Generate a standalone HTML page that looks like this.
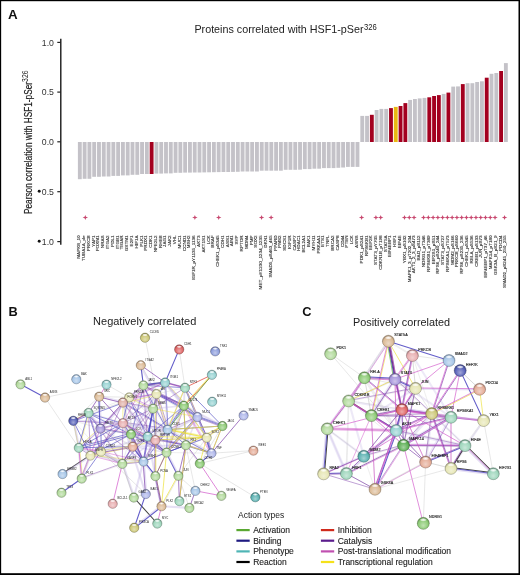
<!DOCTYPE html>
<html><head><meta charset="utf-8"><style>html,body{margin:0;padding:0;width:520px;height:575px;overflow:hidden;background:#fff}</style></head>
<body>
<svg width="520" height="575" viewBox="0 0 520 575" style="position:absolute;left:0;top:0;font-family:'Liberation Sans', sans-serif;will-change:transform">
<rect x="0" y="0" width="520" height="575" fill="#fff"/>
<text x="7.9" y="18.6" font-size="13.4" font-weight="bold" fill="#111">A</text>
<text x="8.5" y="316.3" font-size="12.8" font-weight="bold" fill="#111">B</text>
<text x="302.2" y="316.3" font-size="12.8" font-weight="bold" fill="#111">C</text>
<text x="194.4" y="32.8" font-size="10.6" fill="#222" textLength="169.2" lengthAdjust="spacingAndGlyphs">Proteins correlated with HSF1-pSer</text>
<text x="363.9" y="29.8" font-size="9.2" fill="#222" textLength="12.8" lengthAdjust="spacingAndGlyphs">326</text>
<g transform="translate(32.3,214) rotate(-90)"><text x="0" y="0" font-size="10.4" fill="#222" stroke="#222" stroke-width="0.2" textLength="132" lengthAdjust="spacingAndGlyphs">Pearson correlation with HSF1-pSer</text><text x="132.1" y="-4.1" font-size="9.4" fill="#222" textLength="11.4" lengthAdjust="spacingAndGlyphs">326</text></g>
<line x1="60.8" y1="38.8" x2="60.8" y2="244.8" stroke="#111" stroke-width="1.35"/>
<line x1="57.3" y1="42.4" x2="60.8" y2="42.4" stroke="#222" stroke-width="1.2"/>
<text x="53.9" y="45.6" font-size="9.7" fill="#333" text-anchor="end" textLength="12.1" lengthAdjust="spacingAndGlyphs">1.0</text>
<line x1="57.3" y1="92.1" x2="60.8" y2="92.1" stroke="#222" stroke-width="1.2"/>
<text x="53.9" y="95.3" font-size="9.7" fill="#333" text-anchor="end" textLength="12.1" lengthAdjust="spacingAndGlyphs">0.5</text>
<line x1="57.3" y1="141.8" x2="60.8" y2="141.8" stroke="#222" stroke-width="1.2"/>
<text x="53.9" y="145.1" font-size="9.7" fill="#333" text-anchor="end" textLength="12.1" lengthAdjust="spacingAndGlyphs">0.0</text>
<line x1="57.3" y1="191.7" x2="60.8" y2="191.7" stroke="#222" stroke-width="1.2"/>
<text x="53.9" y="194.9" font-size="9.7" fill="#333" text-anchor="end" textLength="12.1" lengthAdjust="spacingAndGlyphs">0.5</text>
<circle cx="39.2" cy="191.3" r="1.45" fill="#111"/>
<line x1="57.3" y1="241.6" x2="60.8" y2="241.6" stroke="#222" stroke-width="1.2"/>
<text x="53.9" y="244.8" font-size="9.7" fill="#333" text-anchor="end" textLength="12.1" lengthAdjust="spacingAndGlyphs">1.0</text>
<circle cx="39.2" cy="241.2" r="1.45" fill="#111"/>
<rect x="77.90" y="142.0" width="3.85" height="37.20" fill="#c4c2c8"/><rect x="82.69" y="142.0" width="3.85" height="36.80" fill="#c4c2c8"/><rect x="87.47" y="142.0" width="3.85" height="36.80" fill="#c4c2c8"/><rect x="92.26" y="142.0" width="3.85" height="34.80" fill="#c4c2c8"/><rect x="97.05" y="142.0" width="3.85" height="34.80" fill="#c4c2c8"/><rect x="101.84" y="142.0" width="3.85" height="34.50" fill="#c4c2c8"/><rect x="106.62" y="142.0" width="3.85" height="34.50" fill="#c4c2c8"/><rect x="111.41" y="142.0" width="3.85" height="33.90" fill="#c4c2c8"/><rect x="116.20" y="142.0" width="3.85" height="33.90" fill="#c4c2c8"/><rect x="120.98" y="142.0" width="3.85" height="33.40" fill="#c4c2c8"/><rect x="125.77" y="142.0" width="3.85" height="33.40" fill="#c4c2c8"/><rect x="130.56" y="142.0" width="3.85" height="32.80" fill="#c4c2c8"/><rect x="135.34" y="142.0" width="3.85" height="32.80" fill="#c4c2c8"/><rect x="140.13" y="142.0" width="3.85" height="32.00" fill="#c4c2c8"/><rect x="144.92" y="142.0" width="3.85" height="32.00" fill="#c4c2c8"/><rect x="149.70" y="142.0" width="3.85" height="32.00" fill="#a3001f"/><rect x="154.49" y="142.0" width="3.85" height="31.60" fill="#c4c2c8"/><rect x="159.28" y="142.0" width="3.85" height="31.60" fill="#c4c2c8"/><rect x="164.07" y="142.0" width="3.85" height="31.40" fill="#c4c2c8"/><rect x="168.85" y="142.0" width="3.85" height="31.40" fill="#c4c2c8"/><rect x="173.64" y="142.0" width="3.85" height="30.80" fill="#c4c2c8"/><rect x="178.43" y="142.0" width="3.85" height="30.80" fill="#c4c2c8"/><rect x="183.21" y="142.0" width="3.85" height="30.60" fill="#c4c2c8"/><rect x="188.00" y="142.0" width="3.85" height="30.60" fill="#c4c2c8"/><rect x="192.79" y="142.0" width="3.85" height="30.50" fill="#c4c2c8"/><rect x="197.57" y="142.0" width="3.85" height="30.50" fill="#c4c2c8"/><rect x="202.36" y="142.0" width="3.85" height="30.40" fill="#c4c2c8"/><rect x="207.15" y="142.0" width="3.85" height="30.30" fill="#c4c2c8"/><rect x="211.94" y="142.0" width="3.85" height="30.20" fill="#c4c2c8"/><rect x="216.72" y="142.0" width="3.85" height="30.10" fill="#c4c2c8"/><rect x="221.51" y="142.0" width="3.85" height="30.00" fill="#c4c2c8"/><rect x="226.30" y="142.0" width="3.85" height="30.00" fill="#c4c2c8"/><rect x="231.08" y="142.0" width="3.85" height="29.90" fill="#c4c2c8"/><rect x="235.87" y="142.0" width="3.85" height="29.80" fill="#c4c2c8"/><rect x="240.66" y="142.0" width="3.85" height="29.50" fill="#c4c2c8"/><rect x="245.44" y="142.0" width="3.85" height="29.50" fill="#c4c2c8"/><rect x="250.23" y="142.0" width="3.85" height="29.50" fill="#c4c2c8"/><rect x="255.02" y="142.0" width="3.85" height="29.50" fill="#c4c2c8"/><rect x="259.81" y="142.0" width="3.85" height="28.70" fill="#c4c2c8"/><rect x="264.59" y="142.0" width="3.85" height="28.70" fill="#c4c2c8"/><rect x="269.38" y="142.0" width="3.85" height="28.70" fill="#c4c2c8"/><rect x="274.17" y="142.0" width="3.85" height="28.70" fill="#c4c2c8"/><rect x="278.95" y="142.0" width="3.85" height="28.70" fill="#c4c2c8"/><rect x="283.74" y="142.0" width="3.85" height="27.80" fill="#c4c2c8"/><rect x="288.53" y="142.0" width="3.85" height="27.80" fill="#c4c2c8"/><rect x="293.31" y="142.0" width="3.85" height="27.80" fill="#c4c2c8"/><rect x="298.10" y="142.0" width="3.85" height="27.70" fill="#c4c2c8"/><rect x="302.89" y="142.0" width="3.85" height="27.10" fill="#c4c2c8"/><rect x="307.68" y="142.0" width="3.85" height="27.10" fill="#c4c2c8"/><rect x="312.46" y="142.0" width="3.85" height="26.70" fill="#c4c2c8"/><rect x="317.25" y="142.0" width="3.85" height="26.70" fill="#c4c2c8"/><rect x="322.04" y="142.0" width="3.85" height="26.10" fill="#c4c2c8"/><rect x="326.82" y="142.0" width="3.85" height="26.10" fill="#c4c2c8"/><rect x="331.61" y="142.0" width="3.85" height="26.10" fill="#c4c2c8"/><rect x="336.40" y="142.0" width="3.85" height="25.80" fill="#c4c2c8"/><rect x="341.18" y="142.0" width="3.85" height="25.50" fill="#c4c2c8"/><rect x="345.97" y="142.0" width="3.85" height="24.90" fill="#c4c2c8"/><rect x="350.76" y="142.0" width="3.85" height="24.90" fill="#c4c2c8"/><rect x="355.55" y="142.0" width="3.85" height="24.90" fill="#c4c2c8"/><rect x="360.33" y="115.9" width="3.85" height="26.10" fill="#c4c2c8"/><rect x="365.12" y="115.9" width="3.85" height="26.10" fill="#c4c2c8"/><rect x="369.91" y="114.8" width="3.85" height="27.20" fill="#a3001f"/><rect x="374.69" y="110.0" width="3.85" height="32.00" fill="#c4c2c8"/><rect x="379.48" y="108.9" width="3.85" height="33.10" fill="#c4c2c8"/><rect x="384.27" y="108.9" width="3.85" height="33.10" fill="#c4c2c8"/><rect x="389.05" y="108.1" width="3.85" height="33.90" fill="#a3001f"/><rect x="393.84" y="106.9" width="3.85" height="35.10" fill="#e9b812"/><rect x="398.63" y="106.0" width="3.85" height="36.00" fill="#a3001f"/><rect x="403.42" y="103.1" width="3.85" height="38.90" fill="#a3001f"/><rect x="408.20" y="99.95" width="3.85" height="42.05" fill="#c4c2c8"/><rect x="412.99" y="99.0" width="3.85" height="43.00" fill="#c4c2c8"/><rect x="417.78" y="98.4" width="3.85" height="43.60" fill="#c4c2c8"/><rect x="422.56" y="97.9" width="3.85" height="44.10" fill="#c4c2c8"/><rect x="427.35" y="97.3" width="3.85" height="44.70" fill="#a3001f"/><rect x="432.14" y="96.0" width="3.85" height="46.00" fill="#a3001f"/><rect x="436.92" y="95.1" width="3.85" height="46.90" fill="#a3001f"/><rect x="441.71" y="93.9" width="3.85" height="48.10" fill="#c4c2c8"/><rect x="446.50" y="92.6" width="3.85" height="49.40" fill="#a3001f"/><rect x="451.29" y="86.6" width="3.85" height="55.40" fill="#c4c2c8"/><rect x="456.07" y="86.4" width="3.85" height="55.60" fill="#c4c2c8"/><rect x="460.86" y="84.1" width="3.85" height="57.90" fill="#a3001f"/><rect x="465.65" y="83.2" width="3.85" height="58.80" fill="#c4c2c8"/><rect x="470.43" y="83.2" width="3.85" height="58.80" fill="#c4c2c8"/><rect x="475.22" y="82.0" width="3.85" height="60.00" fill="#c4c2c8"/><rect x="480.01" y="81.3" width="3.85" height="60.70" fill="#c4c2c8"/><rect x="484.79" y="77.7" width="3.85" height="64.30" fill="#a3001f"/><rect x="489.58" y="73.8" width="3.85" height="68.20" fill="#c4c2c8"/><rect x="494.37" y="73.0" width="3.85" height="69.00" fill="#c4c2c8"/><rect x="499.16" y="71.0" width="3.85" height="71.00" fill="#a3001f"/><rect x="503.94" y="63.1" width="3.85" height="78.90" fill="#c4c2c8"/>
<path d="M82.61 217.5L84.61 216.80L85.31 214.90L86.01 216.80L88.01 217.5L86.01 218.20L85.31 220.10L84.61 218.20Z" fill="#c8486f"/><path d="M192.19 217.5L194.19 216.80L194.88 214.90L195.58 216.80L197.58 217.5L195.58 218.20L194.88 220.10L194.19 218.20Z" fill="#c8486f"/><path d="M216.01 217.5L218.01 216.80L218.71 214.90L219.41 216.80L221.41 217.5L219.41 218.20L218.71 220.10L218.01 218.20Z" fill="#c8486f"/><path d="M258.88 217.5L260.88 216.80L261.58 214.90L262.28 216.80L264.28 217.5L262.28 218.20L261.58 220.10L260.88 218.20Z" fill="#c8486f"/><path d="M268.41 217.5L270.41 216.80L271.11 214.90L271.81 216.80L273.81 217.5L271.81 218.20L271.11 220.10L270.41 218.20Z" fill="#c8486f"/><path d="M358.93 217.5L360.93 216.80L361.63 214.90L362.33 216.80L364.33 217.5L362.33 218.20L361.63 220.10L360.93 218.20Z" fill="#c8486f"/><path d="M373.22 217.5L375.22 216.80L375.92 214.90L376.62 216.80L378.62 217.5L376.62 218.20L375.92 220.10L375.22 218.20Z" fill="#c8486f"/><path d="M377.99 217.5L379.99 216.80L380.69 214.90L381.39 216.80L383.39 217.5L381.39 218.20L380.69 220.10L379.99 218.20Z" fill="#c8486f"/><path d="M401.81 217.5L403.81 216.80L404.51 214.90L405.21 216.80L407.21 217.5L405.21 218.20L404.51 220.10L403.81 218.20Z" fill="#c8486f"/><path d="M406.57 217.5L408.57 216.80L409.27 214.90L409.97 216.80L411.97 217.5L409.97 218.20L409.27 220.10L408.57 218.20Z" fill="#c8486f"/><path d="M411.34 217.5L413.34 216.80L414.04 214.90L414.74 216.80L416.74 217.5L414.74 218.20L414.04 220.10L413.34 218.20Z" fill="#c8486f"/><path d="M420.87 217.5L422.87 216.80L423.57 214.90L424.27 216.80L426.27 217.5L424.27 218.20L423.57 220.10L422.87 218.20Z" fill="#c8486f"/><path d="M425.63 217.5L427.63 216.80L428.33 214.90L429.03 216.80L431.03 217.5L429.03 218.20L428.33 220.10L427.63 218.20Z" fill="#c8486f"/><path d="M430.40 217.5L432.40 216.80L433.10 214.90L433.80 216.80L435.80 217.5L433.80 218.20L433.10 220.10L432.40 218.20Z" fill="#c8486f"/><path d="M435.16 217.5L437.16 216.80L437.86 214.90L438.56 216.80L440.56 217.5L438.56 218.20L437.86 220.10L437.16 218.20Z" fill="#c8486f"/><path d="M439.92 217.5L441.92 216.80L442.62 214.90L443.32 216.80L445.32 217.5L443.32 218.20L442.62 220.10L441.92 218.20Z" fill="#c8486f"/><path d="M444.69 217.5L446.69 216.80L447.39 214.90L448.09 216.80L450.09 217.5L448.09 218.20L447.39 220.10L446.69 218.20Z" fill="#c8486f"/><path d="M449.45 217.5L451.45 216.80L452.15 214.90L452.85 216.80L454.85 217.5L452.85 218.20L452.15 220.10L451.45 218.20Z" fill="#c8486f"/><path d="M454.22 217.5L456.22 216.80L456.92 214.90L457.62 216.80L459.62 217.5L457.62 218.20L456.92 220.10L456.22 218.20Z" fill="#c8486f"/><path d="M458.98 217.5L460.98 216.80L461.68 214.90L462.38 216.80L464.38 217.5L462.38 218.20L461.68 220.10L460.98 218.20Z" fill="#c8486f"/><path d="M463.74 217.5L465.74 216.80L466.44 214.90L467.14 216.80L469.14 217.5L467.14 218.20L466.44 220.10L465.74 218.20Z" fill="#c8486f"/><path d="M468.51 217.5L470.51 216.80L471.21 214.90L471.91 216.80L473.91 217.5L471.91 218.20L471.21 220.10L470.51 218.20Z" fill="#c8486f"/><path d="M473.27 217.5L475.27 216.80L475.97 214.90L476.67 216.80L478.67 217.5L476.67 218.20L475.97 220.10L475.27 218.20Z" fill="#c8486f"/><path d="M478.04 217.5L480.04 216.80L480.74 214.90L481.44 216.80L483.44 217.5L481.44 218.20L480.74 220.10L480.04 218.20Z" fill="#c8486f"/><path d="M482.80 217.5L484.80 216.80L485.50 214.90L486.20 216.80L488.20 217.5L486.20 218.20L485.50 220.10L484.80 218.20Z" fill="#c8486f"/><path d="M487.57 217.5L489.57 216.80L490.27 214.90L490.97 216.80L492.97 217.5L490.97 218.20L490.27 220.10L489.57 218.20Z" fill="#c8486f"/><path d="M492.33 217.5L494.33 216.80L495.03 214.90L495.73 216.80L497.73 217.5L495.73 218.20L495.03 220.10L494.33 218.20Z" fill="#c8486f"/><path d="M501.86 217.5L503.86 216.80L504.56 214.90L505.26 216.80L507.26 217.5L505.26 218.20L504.56 220.10L503.86 218.20Z" fill="#c8486f"/>
<text transform="translate(80.28,235.3) rotate(-90) scale(0.465,0.34)" x="0" y="0" font-size="10" fill="#333" stroke="#333" stroke-width="0.3" text-anchor="end">MAPK8_10</text><text transform="translate(85.06,235.3) rotate(-90) scale(0.465,0.34)" x="0" y="0" font-size="10" fill="#333" stroke="#333" stroke-width="0.3" text-anchor="end">TUBA1A_de</text><text transform="translate(89.85,235.3) rotate(-90) scale(0.465,0.34)" x="0" y="0" font-size="10" fill="#333" stroke="#333" stroke-width="0.3" text-anchor="end">PRKCB</text><text transform="translate(94.64,235.3) rotate(-90) scale(0.465,0.34)" x="0" y="0" font-size="10" fill="#333" stroke="#333" stroke-width="0.3" text-anchor="end">YAP1</text><text transform="translate(99.42,235.3) rotate(-90) scale(0.465,0.34)" x="0" y="0" font-size="10" fill="#333" stroke="#333" stroke-width="0.3" text-anchor="end">FOXM1</text><text transform="translate(104.21,235.3) rotate(-90) scale(0.465,0.34)" x="0" y="0" font-size="10" fill="#333" stroke="#333" stroke-width="0.3" text-anchor="end">NRAS</text><text transform="translate(109.00,235.3) rotate(-90) scale(0.465,0.34)" x="0" y="0" font-size="10" fill="#333" stroke="#333" stroke-width="0.3" text-anchor="end">ITGA2</text><text transform="translate(113.78,235.3) rotate(-90) scale(0.465,0.34)" x="0" y="0" font-size="10" fill="#333" stroke="#333" stroke-width="0.3" text-anchor="end">PDL1</text><text transform="translate(118.57,235.3) rotate(-90) scale(0.465,0.34)" x="0" y="0" font-size="10" fill="#333" stroke="#333" stroke-width="0.3" text-anchor="end">ITGB1</text><text transform="translate(123.36,235.3) rotate(-90) scale(0.465,0.34)" x="0" y="0" font-size="10" fill="#333" stroke="#333" stroke-width="0.3" text-anchor="end">TIGAR</text><text transform="translate(128.15,235.3) rotate(-90) scale(0.465,0.34)" x="0" y="0" font-size="10" fill="#333" stroke="#333" stroke-width="0.3" text-anchor="end">GSTM1</text><text transform="translate(132.93,235.3) rotate(-90) scale(0.465,0.34)" x="0" y="0" font-size="10" fill="#333" stroke="#333" stroke-width="0.3" text-anchor="end">E2F1</text><text transform="translate(137.72,235.3) rotate(-90) scale(0.465,0.34)" x="0" y="0" font-size="10" fill="#333" stroke="#333" stroke-width="0.3" text-anchor="end">HIF1A</text><text transform="translate(142.51,235.3) rotate(-90) scale(0.465,0.34)" x="0" y="0" font-size="10" fill="#333" stroke="#333" stroke-width="0.3" text-anchor="end">PLK1</text><text transform="translate(147.29,235.3) rotate(-90) scale(0.465,0.34)" x="0" y="0" font-size="10" fill="#333" stroke="#333" stroke-width="0.3" text-anchor="end">PRDX1</text><text transform="translate(152.08,235.3) rotate(-90) scale(0.465,0.34)" x="0" y="0" font-size="10" fill="#333" stroke="#333" stroke-width="0.3" text-anchor="end">CDK1</text><text transform="translate(156.87,235.3) rotate(-90) scale(0.465,0.34)" x="0" y="0" font-size="10" fill="#333" stroke="#333" stroke-width="0.3" text-anchor="end">NFE2L2</text><text transform="translate(161.65,235.3) rotate(-90) scale(0.465,0.34)" x="0" y="0" font-size="10" fill="#333" stroke="#333" stroke-width="0.3" text-anchor="end">RHEB</text><text transform="translate(166.44,235.3) rotate(-90) scale(0.465,0.34)" x="0" y="0" font-size="10" fill="#333" stroke="#333" stroke-width="0.3" text-anchor="end">JAG1</text><text transform="translate(171.23,235.3) rotate(-90) scale(0.465,0.34)" x="0" y="0" font-size="10" fill="#333" stroke="#333" stroke-width="0.3" text-anchor="end">JAK2</text><text transform="translate(176.01,235.3) rotate(-90) scale(0.465,0.34)" x="0" y="0" font-size="10" fill="#333" stroke="#333" stroke-width="0.3" text-anchor="end">VHL</text><text transform="translate(180.80,235.3) rotate(-90) scale(0.465,0.34)" x="0" y="0" font-size="10" fill="#333" stroke="#333" stroke-width="0.3" text-anchor="end">MUC1</text><text transform="translate(185.59,235.3) rotate(-90) scale(0.465,0.34)" x="0" y="0" font-size="10" fill="#333" stroke="#333" stroke-width="0.3" text-anchor="end">CCND1</text><text transform="translate(190.38,235.3) rotate(-90) scale(0.465,0.34)" x="0" y="0" font-size="10" fill="#333" stroke="#333" stroke-width="0.3" text-anchor="end">MSH2</text><text transform="translate(195.16,235.3) rotate(-90) scale(0.465,0.34)" x="0" y="0" font-size="10" fill="#333" stroke="#333" stroke-width="0.3" text-anchor="end">IGF1R_pY1135_1136</text><text transform="translate(199.95,235.3) rotate(-90) scale(0.465,0.34)" x="0" y="0" font-size="10" fill="#333" stroke="#333" stroke-width="0.3" text-anchor="end">AKT3</text><text transform="translate(204.74,235.3) rotate(-90) scale(0.465,0.34)" x="0" y="0" font-size="10" fill="#333" stroke="#333" stroke-width="0.3" text-anchor="end">AKT1S1</text><text transform="translate(209.52,235.3) rotate(-90) scale(0.465,0.34)" x="0" y="0" font-size="10" fill="#333" stroke="#333" stroke-width="0.3" text-anchor="end">LCK</text><text transform="translate(214.31,235.3) rotate(-90) scale(0.465,0.34)" x="0" y="0" font-size="10" fill="#333" stroke="#333" stroke-width="0.3" text-anchor="end">BRAF</text><text transform="translate(219.10,235.3) rotate(-90) scale(0.465,0.34)" x="0" y="0" font-size="10" fill="#333" stroke="#333" stroke-width="0.3" text-anchor="end">CHEK1_pS345</text><text transform="translate(223.88,235.3) rotate(-90) scale(0.465,0.34)" x="0" y="0" font-size="10" fill="#333" stroke="#333" stroke-width="0.3" text-anchor="end">CDH1</text><text transform="translate(228.67,235.3) rotate(-90) scale(0.465,0.34)" x="0" y="0" font-size="10" fill="#333" stroke="#333" stroke-width="0.3" text-anchor="end">ASS1</text><text transform="translate(233.46,235.3) rotate(-90) scale(0.465,0.34)" x="0" y="0" font-size="10" fill="#333" stroke="#333" stroke-width="0.3" text-anchor="end">AIM1</text><text transform="translate(238.25,235.3) rotate(-90) scale(0.465,0.34)" x="0" y="0" font-size="10" fill="#333" stroke="#333" stroke-width="0.3" text-anchor="end">SYP</text><text transform="translate(243.03,235.3) rotate(-90) scale(0.465,0.34)" x="0" y="0" font-size="10" fill="#333" stroke="#333" stroke-width="0.3" text-anchor="end">RPTOR</text><text transform="translate(247.82,235.3) rotate(-90) scale(0.465,0.34)" x="0" y="0" font-size="10" fill="#333" stroke="#333" stroke-width="0.3" text-anchor="end">MDM4</text><text transform="translate(252.61,235.3) rotate(-90) scale(0.465,0.34)" x="0" y="0" font-size="10" fill="#333" stroke="#333" stroke-width="0.3" text-anchor="end">PMP</text><text transform="translate(257.39,235.3) rotate(-90) scale(0.465,0.34)" x="0" y="0" font-size="10" fill="#333" stroke="#333" stroke-width="0.3" text-anchor="end">SOX2</text><text transform="translate(262.18,235.3) rotate(-90) scale(0.465,0.34)" x="0" y="0" font-size="10" fill="#333" stroke="#333" stroke-width="0.3" text-anchor="end">MET_pY1230_1234_1235</text><text transform="translate(266.97,235.3) rotate(-90) scale(0.465,0.34)" x="0" y="0" font-size="10" fill="#333" stroke="#333" stroke-width="0.3" text-anchor="end">DKN1</text><text transform="translate(271.75,235.3) rotate(-90) scale(0.465,0.34)" x="0" y="0" font-size="10" fill="#333" stroke="#333" stroke-width="0.3" text-anchor="end">SMAD5_pS463_465</text><text transform="translate(276.54,235.3) rotate(-90) scale(0.465,0.34)" x="0" y="0" font-size="10" fill="#333" stroke="#333" stroke-width="0.3" text-anchor="end">PPARD</text><text transform="translate(281.33,235.3) rotate(-90) scale(0.465,0.34)" x="0" y="0" font-size="10" fill="#333" stroke="#333" stroke-width="0.3" text-anchor="end">PMS2</text><text transform="translate(286.12,235.3) rotate(-90) scale(0.465,0.34)" x="0" y="0" font-size="10" fill="#333" stroke="#333" stroke-width="0.3" text-anchor="end">SDCS1</text><text transform="translate(290.90,235.3) rotate(-90) scale(0.465,0.34)" x="0" y="0" font-size="10" fill="#333" stroke="#333" stroke-width="0.3" text-anchor="end">IGF1R</text><text transform="translate(295.69,235.3) rotate(-90) scale(0.465,0.34)" x="0" y="0" font-size="10" fill="#333" stroke="#333" stroke-width="0.3" text-anchor="end">CASP7</text><text transform="translate(300.48,235.3) rotate(-90) scale(0.465,0.34)" x="0" y="0" font-size="10" fill="#333" stroke="#333" stroke-width="0.3" text-anchor="end">HDAC1</text><text transform="translate(305.26,235.3) rotate(-90) scale(0.465,0.34)" x="0" y="0" font-size="10" fill="#333" stroke="#333" stroke-width="0.3" text-anchor="end">BCL2A1</text><text transform="translate(310.05,235.3) rotate(-90) scale(0.465,0.34)" x="0" y="0" font-size="10" fill="#333" stroke="#333" stroke-width="0.3" text-anchor="end">BAK1</text><text transform="translate(314.84,235.3) rotate(-90) scale(0.465,0.34)" x="0" y="0" font-size="10" fill="#333" stroke="#333" stroke-width="0.3" text-anchor="end">MYH11</text><text transform="translate(319.62,235.3) rotate(-90) scale(0.465,0.34)" x="0" y="0" font-size="10" fill="#333" stroke="#333" stroke-width="0.3" text-anchor="end">PRKAA1</text><text transform="translate(324.41,235.3) rotate(-90) scale(0.465,0.34)" x="0" y="0" font-size="10" fill="#333" stroke="#333" stroke-width="0.3" text-anchor="end">ETS1</text><text transform="translate(329.20,235.3) rotate(-90) scale(0.465,0.34)" x="0" y="0" font-size="10" fill="#333" stroke="#333" stroke-width="0.3" text-anchor="end">TNFL</text><text transform="translate(333.99,235.3) rotate(-90) scale(0.465,0.34)" x="0" y="0" font-size="10" fill="#333" stroke="#333" stroke-width="0.3" text-anchor="end">BRCA2</text><text transform="translate(338.77,235.3) rotate(-90) scale(0.465,0.34)" x="0" y="0" font-size="10" fill="#333" stroke="#333" stroke-width="0.3" text-anchor="end">CASP8</text><text transform="translate(343.56,235.3) rotate(-90) scale(0.465,0.34)" x="0" y="0" font-size="10" fill="#333" stroke="#333" stroke-width="0.3" text-anchor="end">CD44</text><text transform="translate(348.35,235.3) rotate(-90) scale(0.465,0.34)" x="0" y="0" font-size="10" fill="#333" stroke="#333" stroke-width="0.3" text-anchor="end">PTEN</text><text transform="translate(353.13,235.3) rotate(-90) scale(0.465,0.34)" x="0" y="0" font-size="10" fill="#333" stroke="#333" stroke-width="0.3" text-anchor="end">LCK</text><text transform="translate(357.92,235.3) rotate(-90) scale(0.465,0.34)" x="0" y="0" font-size="10" fill="#333" stroke="#333" stroke-width="0.3" text-anchor="end">ASNS</text><text transform="translate(362.71,235.3) rotate(-90) scale(0.465,0.34)" x="0" y="0" font-size="10" fill="#333" stroke="#333" stroke-width="0.3" text-anchor="end">PDK1_pS241</text><text transform="translate(367.50,235.3) rotate(-90) scale(0.465,0.34)" x="0" y="0" font-size="10" fill="#333" stroke="#333" stroke-width="0.3" text-anchor="end">RPS6KB1</text><text transform="translate(372.28,235.3) rotate(-90) scale(0.465,0.34)" x="0" y="0" font-size="10" fill="#333" stroke="#333" stroke-width="0.3" text-anchor="end">EEF2K</text><text transform="translate(377.07,235.3) rotate(-90) scale(0.465,0.34)" x="0" y="0" font-size="10" fill="#333" stroke="#333" stroke-width="0.3" text-anchor="end">STAT3_pY705</text><text transform="translate(381.86,235.3) rotate(-90) scale(0.465,0.34)" x="0" y="0" font-size="10" fill="#333" stroke="#333" stroke-width="0.3" text-anchor="end">CDKN1B_pT198</text><text transform="translate(386.64,235.3) rotate(-90) scale(0.465,0.34)" x="0" y="0" font-size="10" fill="#333" stroke="#333" stroke-width="0.3" text-anchor="end">STAT5A</text><text transform="translate(391.43,235.3) rotate(-90) scale(0.465,0.34)" x="0" y="0" font-size="10" fill="#333" stroke="#333" stroke-width="0.3" text-anchor="end">EIF4EBP1</text><text transform="translate(396.22,235.3) rotate(-90) scale(0.465,0.34)" x="0" y="0" font-size="10" fill="#333" stroke="#333" stroke-width="0.3" text-anchor="end">HSF1</text><text transform="translate(401.00,235.3) rotate(-90) scale(0.465,0.34)" x="0" y="0" font-size="10" fill="#333" stroke="#333" stroke-width="0.3" text-anchor="end">EIF4E</text><text transform="translate(405.79,235.3) rotate(-90) scale(0.465,0.34)" x="0" y="0" font-size="10" fill="#333" stroke="#333" stroke-width="0.3" text-anchor="end">YBX1_pS102</text><text transform="translate(410.58,235.3) rotate(-90) scale(0.465,0.34)" x="0" y="0" font-size="10" fill="#333" stroke="#333" stroke-width="0.3" text-anchor="end">MAPK1_3_pT202_204</text><text transform="translate(415.37,235.3) rotate(-90) scale(0.465,0.34)" x="0" y="0" font-size="10" fill="#333" stroke="#333" stroke-width="0.3" text-anchor="end">AKT1_2_3_pS473</text><text transform="translate(420.15,235.3) rotate(-90) scale(0.465,0.34)" x="0" y="0" font-size="10" fill="#333" stroke="#333" stroke-width="0.3" text-anchor="end">BAD_pS112</text><text transform="translate(424.94,235.3) rotate(-90) scale(0.465,0.34)" x="0" y="0" font-size="10" fill="#333" stroke="#333" stroke-width="0.3" text-anchor="end">NDRG1_pT346</text><text transform="translate(429.73,235.3) rotate(-90) scale(0.465,0.34)" x="0" y="0" font-size="10" fill="#333" stroke="#333" stroke-width="0.3" text-anchor="end">RPS6KB1_pT389</text><text transform="translate(434.51,235.3) rotate(-90) scale(0.465,0.34)" x="0" y="0" font-size="10" fill="#333" stroke="#333" stroke-width="0.3" text-anchor="end">EIF2S1_pS51</text><text transform="translate(439.30,235.3) rotate(-90) scale(0.465,0.34)" x="0" y="0" font-size="10" fill="#333" stroke="#333" stroke-width="0.3" text-anchor="end">RPS6_pS240_244</text><text transform="translate(444.09,235.3) rotate(-90) scale(0.465,0.34)" x="0" y="0" font-size="10" fill="#333" stroke="#333" stroke-width="0.3" text-anchor="end">STAT3_pS727</text><text transform="translate(448.87,235.3) rotate(-90) scale(0.465,0.34)" x="0" y="0" font-size="10" fill="#333" stroke="#333" stroke-width="0.3" text-anchor="end">RPS6KA1_pT573</text><text transform="translate(453.66,235.3) rotate(-90) scale(0.465,0.34)" x="0" y="0" font-size="10" fill="#333" stroke="#333" stroke-width="0.3" text-anchor="end">MDM2_pS166</text><text transform="translate(458.45,235.3) rotate(-90) scale(0.465,0.34)" x="0" y="0" font-size="10" fill="#333" stroke="#333" stroke-width="0.3" text-anchor="end">PRKCB_pS660</text><text transform="translate(463.24,235.3) rotate(-90) scale(0.465,0.34)" x="0" y="0" font-size="10" fill="#333" stroke="#333" stroke-width="0.3" text-anchor="end">RPS6_pS235_236</text><text transform="translate(468.02,235.3) rotate(-90) scale(0.465,0.34)" x="0" y="0" font-size="10" fill="#333" stroke="#333" stroke-width="0.3" text-anchor="end">CHEK1_pS345</text><text transform="translate(472.81,235.3) rotate(-90) scale(0.465,0.34)" x="0" y="0" font-size="10" fill="#333" stroke="#333" stroke-width="0.3" text-anchor="end">RELA_pS536</text><text transform="translate(477.60,235.3) rotate(-90) scale(0.465,0.34)" x="0" y="0" font-size="10" fill="#333" stroke="#333" stroke-width="0.3" text-anchor="end">CREB1_pS133</text><text transform="translate(482.38,235.3) rotate(-90) scale(0.465,0.34)" x="0" y="0" font-size="10" fill="#333" stroke="#333" stroke-width="0.3" text-anchor="end">JUN_pS73</text><text transform="translate(487.17,235.3) rotate(-90) scale(0.465,0.34)" x="0" y="0" font-size="10" fill="#333" stroke="#333" stroke-width="0.3" text-anchor="end">EIF4EBP1_pT37_46</text><text transform="translate(491.96,235.3) rotate(-90) scale(0.465,0.34)" x="0" y="0" font-size="10" fill="#333" stroke="#333" stroke-width="0.3" text-anchor="end">MAPK14_pT180</text><text transform="translate(496.74,235.3) rotate(-90) scale(0.465,0.34)" x="0" y="0" font-size="10" fill="#333" stroke="#333" stroke-width="0.3" text-anchor="end">GSK3A_B_pS21_9</text><text transform="translate(501.53,235.3) rotate(-90) scale(0.465,0.34)" x="0" y="0" font-size="10" fill="#333" stroke="#333" stroke-width="0.3" text-anchor="end">PDCD4</text><text transform="translate(506.32,235.3) rotate(-90) scale(0.465,0.34)" x="0" y="0" font-size="10" fill="#333" stroke="#333" stroke-width="0.3" text-anchor="end">SMAD2_pS245_250_255</text>
<text x="93.1" y="325.3" font-size="11" fill="#222" textLength="103.2" lengthAdjust="spacingAndGlyphs">Negatively correlated</text>
<text x="353" y="325.5" font-size="11" fill="#222" textLength="97.1" lengthAdjust="spacingAndGlyphs">Positively correlated</text>
<text x="238" y="518.2" font-size="8.7" fill="#222" textLength="46.3" lengthAdjust="spacingAndGlyphs">Action types</text>
<line x1="236.4" y1="530.1" x2="249.70000000000002" y2="530.1" stroke="#5aa832" stroke-width="2.2"/>
<text x="253.20000000000002" y="533.1" font-size="8.5" fill="#222" stroke="#222" stroke-width="0.12">Activation</text>
<line x1="236.4" y1="540.7" x2="249.70000000000002" y2="540.7" stroke="#1e1a80" stroke-width="2.2"/>
<text x="253.20000000000002" y="543.7" font-size="8.5" fill="#222" stroke="#222" stroke-width="0.12">Binding</text>
<line x1="236.4" y1="551.4" x2="249.70000000000002" y2="551.4" stroke="#4fb5b5" stroke-width="2.2"/>
<text x="253.20000000000002" y="554.4" font-size="8.5" fill="#222" stroke="#222" stroke-width="0.12">Phenotype</text>
<line x1="236.4" y1="562" x2="249.70000000000002" y2="562" stroke="#000" stroke-width="2.2"/>
<text x="253.20000000000002" y="565" font-size="8.5" fill="#222" stroke="#222" stroke-width="0.12">Reaction</text>
<line x1="320.9" y1="530.1" x2="334.2" y2="530.1" stroke="#d02a1c" stroke-width="2.2"/>
<text x="337.7" y="533.1" font-size="8.5" fill="#222" stroke="#222" stroke-width="0.12">Inhibition</text>
<line x1="320.9" y1="540.7" x2="334.2" y2="540.7" stroke="#5a1c8c" stroke-width="2.2"/>
<text x="337.7" y="543.7" font-size="8.5" fill="#222" stroke="#222" stroke-width="0.12">Catalysis</text>
<line x1="320.9" y1="551.4" x2="334.2" y2="551.4" stroke="#c050b0" stroke-width="2.2"/>
<text x="337.7" y="554.4" font-size="8.5" fill="#222" stroke="#222" stroke-width="0.12">Post-translational modification</text>
<line x1="320.9" y1="562" x2="334.2" y2="562" stroke="#f5e11a" stroke-width="2.2"/>
<text x="337.7" y="565" font-size="8.5" fill="#222" stroke="#222" stroke-width="0.12">Transcriptional regulation</text>
<defs><radialGradient id="g_lg" cx="50%" cy="58%" r="55%" fx="50%" fy="70%"><stop offset="0" stop-color="#d4eac8"/><stop offset="0.75" stop-color="#b2da9c"/><stop offset="1" stop-color="#7c986d"/></radialGradient><radialGradient id="g_g" cx="50%" cy="58%" r="55%" fx="50%" fy="70%"><stop offset="0" stop-color="#c0e2b3"/><stop offset="0.75" stop-color="#8dcb76"/><stop offset="1" stop-color="#628e52"/></radialGradient><radialGradient id="g_dg" cx="50%" cy="58%" r="55%" fx="50%" fy="70%"><stop offset="0" stop-color="#a5d3a1"/><stop offset="0.75" stop-color="#5caf55"/><stop offset="1" stop-color="#407a3b"/></radialGradient><radialGradient id="g_tan" cx="50%" cy="58%" r="55%" fx="50%" fy="70%"><stop offset="0" stop-color="#ebd9c5"/><stop offset="0.75" stop-color="#dcbb96"/><stop offset="1" stop-color="#9a8269"/></radialGradient><radialGradient id="g_pt" cx="50%" cy="58%" r="55%" fx="50%" fy="70%"><stop offset="0" stop-color="#edd3ce"/><stop offset="0.75" stop-color="#e0b0a6"/><stop offset="1" stop-color="#9c7b74"/></radialGradient><radialGradient id="g_pk" cx="50%" cy="58%" r="55%" fx="50%" fy="70%"><stop offset="0" stop-color="#f2d2d3"/><stop offset="0.75" stop-color="#e8aeb0"/><stop offset="1" stop-color="#a2797b"/></radialGradient><radialGradient id="g_sal" cx="50%" cy="58%" r="55%" fx="50%" fy="70%"><stop offset="0" stop-color="#f0d1c6"/><stop offset="0.75" stop-color="#e5ad98"/><stop offset="1" stop-color="#a0796a"/></radialGradient><radialGradient id="g_cr" cx="50%" cy="58%" r="55%" fx="50%" fy="70%"><stop offset="0" stop-color="#f1f1d5"/><stop offset="0.75" stop-color="#e6e6b4"/><stop offset="1" stop-color="#a1a17d"/></radialGradient><radialGradient id="g_ol" cx="50%" cy="58%" r="55%" fx="50%" fy="70%"><stop offset="0" stop-color="#e3e0b4"/><stop offset="0.75" stop-color="#cdc878"/><stop offset="1" stop-color="#8f8c54"/></radialGradient><radialGradient id="g_te" cx="50%" cy="58%" r="55%" fx="50%" fy="70%"><stop offset="0" stop-color="#c5e6e6"/><stop offset="0.75" stop-color="#96d2d2"/><stop offset="1" stop-color="#699393"/></radialGradient><radialGradient id="g_tg" cx="50%" cy="58%" r="55%" fx="50%" fy="70%"><stop offset="0" stop-color="#c9e8da"/><stop offset="0.75" stop-color="#9ed6bc"/><stop offset="1" stop-color="#6e9583"/></radialGradient><radialGradient id="g_lb" cx="50%" cy="58%" r="55%" fx="50%" fy="70%"><stop offset="0" stop-color="#cedff2"/><stop offset="0.75" stop-color="#a6c6e8"/><stop offset="1" stop-color="#748aa2"/></radialGradient><radialGradient id="g_bl" cx="50%" cy="58%" r="55%" fx="50%" fy="70%"><stop offset="0" stop-color="#c0c9eb"/><stop offset="0.75" stop-color="#8e9edc"/><stop offset="1" stop-color="#636e9a"/></radialGradient><radialGradient id="g_db" cx="50%" cy="58%" r="55%" fx="50%" fy="70%"><stop offset="0" stop-color="#a2a7d7"/><stop offset="0.75" stop-color="#5660b8"/><stop offset="1" stop-color="#3c4380"/></radialGradient><radialGradient id="g_pu" cx="50%" cy="58%" r="55%" fx="50%" fy="70%"><stop offset="0" stop-color="#cec5eb"/><stop offset="0.75" stop-color="#a696dc"/><stop offset="1" stop-color="#74699a"/></radialGradient><radialGradient id="g_la" cx="50%" cy="58%" r="55%" fx="50%" fy="70%"><stop offset="0" stop-color="#d2d6f3"/><stop offset="0.75" stop-color="#aeb6ea"/><stop offset="1" stop-color="#797fa3"/></radialGradient><radialGradient id="g_rd" cx="50%" cy="58%" r="55%" fx="50%" fy="70%"><stop offset="0" stop-color="#edaaaa"/><stop offset="0.75" stop-color="#e06666"/><stop offset="1" stop-color="#9c4747"/></radialGradient><radialGradient id="g_dt" cx="50%" cy="58%" r="55%" fx="50%" fy="70%"><stop offset="0" stop-color="#a5d4d4"/><stop offset="0.75" stop-color="#5cb2b2"/><stop offset="1" stop-color="#407c7c"/></radialGradient><radialGradient id="hl" cx="50%" cy="50%" r="50%"><stop offset="0" stop-color="#fff" stop-opacity="0.95"/><stop offset="0.6" stop-color="#fff" stop-opacity="0.6"/><stop offset="1" stop-color="#fff" stop-opacity="0"/></radialGradient></defs><g stroke-linecap="round"><line x1="198.1" y1="417.6" x2="167.2" y2="453.1" stroke="#7a3aa8" stroke-width="0.6" stroke-opacity="0.75"/><line x1="197.4" y1="417.0" x2="166.5" y2="452.5" stroke="#7a3aa8" stroke-width="0.6" stroke-opacity="0.75"/><line x1="196.7" y1="416.4" x2="165.8" y2="451.9" stroke="#4640c0" stroke-width="0.81" stroke-opacity="0.75"/><line x1="100.6" y1="428.1" x2="132.9" y2="446.2" stroke="#b8b8b8" stroke-width="0.6" stroke-opacity="0.375"/><line x1="100.2" y1="428.9" x2="132.5" y2="447.0" stroke="#b8b8b8" stroke-width="0.6" stroke-opacity="0.375"/><line x1="100.8" y1="428.3" x2="122.7" y2="463.6" stroke="#b8b8b8" stroke-width="0.6" stroke-opacity="0.375"/><line x1="100.0" y1="428.7" x2="121.9" y2="464.0" stroke="#7a3aa8" stroke-width="0.6" stroke-opacity="0.75"/><line x1="153.1" y1="408.6" x2="132.7" y2="446.6" stroke="#7a3aa8" stroke-width="0.6" stroke-opacity="0.75"/><line x1="185.8" y1="445.1" x2="222.4" y2="426.0" stroke="#b8b8b8" stroke-width="0.6" stroke-opacity="0.375"/><line x1="122.8" y1="402.5" x2="101.0" y2="451.5" stroke="#7a3aa8" stroke-width="0.6" stroke-opacity="0.75"/><line x1="147.7" y1="436.5" x2="143.5" y2="461.5" stroke="#d050c8" stroke-width="0.6" stroke-opacity="0.75"/><line x1="123.0" y1="402.1" x2="167.8" y2="429.2" stroke="#4640c0" stroke-width="0.81" stroke-opacity="0.75"/><line x1="122.6" y1="402.9" x2="167.4" y2="430.0" stroke="#7a3aa8" stroke-width="0.6" stroke-opacity="0.75"/><line x1="78.8" y1="447.8" x2="90.4" y2="455.5" stroke="#7a3aa8" stroke-width="0.6" stroke-opacity="0.75"/><line x1="147.7" y1="436.5" x2="122.3" y2="463.8" stroke="#4640c0" stroke-width="0.81" stroke-opacity="0.75"/><line x1="156.7" y1="394.3" x2="123.2" y2="423.4" stroke="#b8b8b8" stroke-width="0.6" stroke-opacity="0.375"/><line x1="156.1" y1="393.7" x2="122.6" y2="422.8" stroke="#7a3aa8" stroke-width="0.6" stroke-opacity="0.75"/><line x1="197.4" y1="417.0" x2="211.5" y2="453.2" stroke="#4640c0" stroke-width="0.81" stroke-opacity="0.75"/><line x1="100.4" y1="428.5" x2="90.4" y2="455.5" stroke="#b8a8e0" stroke-width="1.56" stroke-opacity="0.315"/><line x1="152.7" y1="408.4" x2="164.7" y2="382.3" stroke="#4640c0" stroke-width="0.81" stroke-opacity="0.75"/><line x1="153.5" y1="408.8" x2="165.5" y2="382.7" stroke="#b8b8b8" stroke-width="0.6" stroke-opacity="0.375"/><line x1="155.7" y1="440.9" x2="133.0" y2="447.5" stroke="#b8b8b8" stroke-width="0.6" stroke-opacity="0.375"/><line x1="155.4" y1="440.0" x2="132.7" y2="446.6" stroke="#ece030" stroke-width="0.6" stroke-opacity="0.75"/><line x1="155.1" y1="439.1" x2="132.4" y2="445.7" stroke="#b8b8b8" stroke-width="0.6" stroke-opacity="0.375"/><line x1="167.6" y1="429.6" x2="132.7" y2="446.6" stroke="#b8b8b8" stroke-width="0.6" stroke-opacity="0.375"/><line x1="197.4" y1="417.0" x2="185.8" y2="445.1" stroke="#b8a8e0" stroke-width="1.56" stroke-opacity="0.315"/><line x1="73.3" y1="420.8" x2="78.8" y2="447.8" stroke="#ece030" stroke-width="0.6" stroke-opacity="0.75"/><line x1="73.3" y1="420.8" x2="101.0" y2="451.5" stroke="#b8b8b8" stroke-width="0.6" stroke-opacity="0.375"/><line x1="185.8" y1="445.1" x2="166.5" y2="452.5" stroke="#7a3aa8" stroke-width="0.6" stroke-opacity="0.75"/><line x1="73.3" y1="420.8" x2="100.4" y2="428.5" stroke="#b8b8b8" stroke-width="0.6" stroke-opacity="0.375"/><line x1="157.3" y1="393.7" x2="168.5" y2="429.3" stroke="#7a3aa8" stroke-width="0.6" stroke-opacity="0.75"/><line x1="156.4" y1="394.0" x2="167.6" y2="429.6" stroke="#ece030" stroke-width="0.6" stroke-opacity="0.75"/><line x1="155.5" y1="394.3" x2="166.7" y2="429.9" stroke="#7a3aa8" stroke-width="0.6" stroke-opacity="0.75"/><line x1="197.7" y1="416.2" x2="222.7" y2="425.2" stroke="#4640c0" stroke-width="0.81" stroke-opacity="0.75"/><line x1="197.4" y1="417.0" x2="222.4" y2="426.0" stroke="#4640c0" stroke-width="0.81" stroke-opacity="0.75"/><line x1="197.1" y1="417.8" x2="222.1" y2="426.8" stroke="#7a3aa8" stroke-width="0.6" stroke-opacity="0.75"/><line x1="129.2" y1="397.3" x2="155.4" y2="440.0" stroke="#7a3aa8" stroke-width="0.6" stroke-opacity="0.75"/><line x1="88.7" y1="412.5" x2="123.0" y2="422.7" stroke="#b8b8b8" stroke-width="0.6" stroke-opacity="0.375"/><line x1="88.5" y1="413.3" x2="122.8" y2="423.5" stroke="#4640c0" stroke-width="0.81" stroke-opacity="0.75"/><line x1="123.0" y1="422.2" x2="167.7" y2="428.7" stroke="#7a3aa8" stroke-width="0.6" stroke-opacity="0.75"/><line x1="122.9" y1="423.1" x2="167.6" y2="429.6" stroke="#b8a8e0" stroke-width="1.56" stroke-opacity="0.315"/><line x1="122.8" y1="424.0" x2="167.5" y2="430.5" stroke="#b8a8e0" stroke-width="1.56" stroke-opacity="0.315"/><line x1="101.5" y1="450.7" x2="122.8" y2="463.0" stroke="#b8b8b8" stroke-width="0.6" stroke-opacity="0.375"/><line x1="101.0" y1="451.5" x2="122.3" y2="463.8" stroke="#b8b8b8" stroke-width="0.6" stroke-opacity="0.375"/><line x1="100.5" y1="452.3" x2="121.8" y2="464.6" stroke="#7a3aa8" stroke-width="0.6" stroke-opacity="0.75"/><line x1="167.6" y1="429.6" x2="222.4" y2="426.0" stroke="#4640c0" stroke-width="0.81" stroke-opacity="0.75"/><line x1="197.4" y1="417.0" x2="147.7" y2="436.5" stroke="#b8b8b8" stroke-width="0.6" stroke-opacity="0.375"/><line x1="123.1" y1="402.2" x2="155.7" y2="439.7" stroke="#b8a8e0" stroke-width="1.56" stroke-opacity="0.315"/><line x1="122.5" y1="402.8" x2="155.1" y2="440.3" stroke="#7a3aa8" stroke-width="0.6" stroke-opacity="0.75"/><line x1="73.3" y1="420.4" x2="122.9" y2="422.7" stroke="#b8a8e0" stroke-width="1.56" stroke-opacity="0.315"/><line x1="73.3" y1="421.2" x2="122.9" y2="423.5" stroke="#7a3aa8" stroke-width="0.6" stroke-opacity="0.75"/><line x1="133.1" y1="446.3" x2="143.9" y2="461.2" stroke="#b8b8b8" stroke-width="0.6" stroke-opacity="0.375"/><line x1="132.3" y1="446.9" x2="143.1" y2="461.8" stroke="#7a3aa8" stroke-width="0.6" stroke-opacity="0.75"/><line x1="129.6" y1="397.1" x2="148.1" y2="436.3" stroke="#b8b8b8" stroke-width="0.6" stroke-opacity="0.375"/><line x1="128.8" y1="397.5" x2="147.3" y2="436.7" stroke="#4640c0" stroke-width="0.81" stroke-opacity="0.75"/><line x1="222.7" y1="426.4" x2="207.0" y2="438.0" stroke="#b8b8b8" stroke-width="0.6" stroke-opacity="0.375"/><line x1="222.1" y1="425.6" x2="206.4" y2="437.2" stroke="#7a3aa8" stroke-width="0.6" stroke-opacity="0.75"/><line x1="100.3" y1="428.1" x2="122.8" y2="422.7" stroke="#7a3aa8" stroke-width="0.6" stroke-opacity="0.75"/><line x1="100.5" y1="428.9" x2="123.0" y2="423.5" stroke="#7a3aa8" stroke-width="0.6" stroke-opacity="0.75"/><line x1="153.1" y1="408.6" x2="167.6" y2="429.6" stroke="#b8b8b8" stroke-width="0.6" stroke-opacity="0.375"/><line x1="147.7" y1="436.5" x2="166.5" y2="452.5" stroke="#4640c0" stroke-width="0.81" stroke-opacity="0.75"/><line x1="133.1" y1="446.8" x2="122.7" y2="464.0" stroke="#b8b8b8" stroke-width="0.6" stroke-opacity="0.375"/><line x1="132.3" y1="446.4" x2="121.9" y2="463.6" stroke="#4640c0" stroke-width="0.81" stroke-opacity="0.75"/><line x1="123.2" y1="402.4" x2="131.4" y2="434.1" stroke="#b8a8e0" stroke-width="1.56" stroke-opacity="0.315"/><line x1="122.4" y1="402.6" x2="130.6" y2="434.3" stroke="#b8b8b8" stroke-width="0.6" stroke-opacity="0.375"/><line x1="184.6" y1="405.2" x2="212.3" y2="452.7" stroke="#b8b8b8" stroke-width="0.6" stroke-opacity="0.375"/><line x1="183.8" y1="405.7" x2="211.5" y2="453.2" stroke="#d050c8" stroke-width="0.6" stroke-opacity="0.75"/><line x1="183.0" y1="406.2" x2="210.7" y2="453.7" stroke="#d050c8" stroke-width="0.6" stroke-opacity="0.75"/><line x1="185.6" y1="444.7" x2="206.5" y2="437.2" stroke="#b8a8e0" stroke-width="1.56" stroke-opacity="0.315"/><line x1="186.0" y1="445.5" x2="206.9" y2="438.0" stroke="#b8b8b8" stroke-width="0.6" stroke-opacity="0.375"/><line x1="122.8" y1="402.5" x2="122.9" y2="423.1" stroke="#ece030" stroke-width="0.6" stroke-opacity="0.75"/><line x1="185.9" y1="444.7" x2="211.6" y2="452.8" stroke="#7a3aa8" stroke-width="0.6" stroke-opacity="0.75"/><line x1="185.7" y1="445.5" x2="211.4" y2="453.6" stroke="#4640c0" stroke-width="0.81" stroke-opacity="0.75"/><line x1="156.8" y1="394.0" x2="155.8" y2="440.0" stroke="#7a3aa8" stroke-width="0.6" stroke-opacity="0.75"/><line x1="156.0" y1="394.0" x2="155.0" y2="440.0" stroke="#ece030" stroke-width="0.6" stroke-opacity="0.75"/><line x1="73.3" y1="420.8" x2="90.4" y2="455.5" stroke="#4640c0" stroke-width="0.81" stroke-opacity="0.75"/><line x1="184.6" y1="406.0" x2="167.3" y2="452.8" stroke="#7a3aa8" stroke-width="0.6" stroke-opacity="0.75"/><line x1="183.8" y1="405.7" x2="166.5" y2="452.5" stroke="#ece030" stroke-width="0.6" stroke-opacity="0.75"/><line x1="183.0" y1="405.4" x2="165.7" y2="452.2" stroke="#b8a8e0" stroke-width="1.56" stroke-opacity="0.315"/><line x1="79.0" y1="447.4" x2="122.5" y2="463.4" stroke="#b8b8b8" stroke-width="0.6" stroke-opacity="0.375"/><line x1="78.6" y1="448.2" x2="122.1" y2="464.2" stroke="#b8a8e0" stroke-width="1.56" stroke-opacity="0.315"/><line x1="197.8" y1="416.8" x2="207.1" y2="437.4" stroke="#4640c0" stroke-width="0.81" stroke-opacity="0.75"/><line x1="197.0" y1="417.2" x2="206.3" y2="437.8" stroke="#b8a8e0" stroke-width="1.56" stroke-opacity="0.315"/><line x1="167.6" y1="429.6" x2="185.8" y2="445.1" stroke="#4640c0" stroke-width="0.81" stroke-opacity="0.75"/><line x1="122.9" y1="423.1" x2="131.0" y2="434.2" stroke="#7a3aa8" stroke-width="0.6" stroke-opacity="0.75"/><line x1="123.3" y1="422.3" x2="155.8" y2="439.2" stroke="#b8b8b8" stroke-width="0.6" stroke-opacity="0.375"/><line x1="122.9" y1="423.1" x2="155.4" y2="440.0" stroke="#7a3aa8" stroke-width="0.6" stroke-opacity="0.75"/><line x1="122.5" y1="423.9" x2="155.0" y2="440.8" stroke="#ece030" stroke-width="0.6" stroke-opacity="0.75"/><line x1="183.8" y1="405.7" x2="155.4" y2="440.0" stroke="#b8a8e0" stroke-width="1.56" stroke-opacity="0.315"/><line x1="153.1" y1="408.6" x2="185.8" y2="445.1" stroke="#b8b8b8" stroke-width="0.6" stroke-opacity="0.375"/><line x1="143.3" y1="384.9" x2="165.0" y2="382.1" stroke="#ece030" stroke-width="0.6" stroke-opacity="0.75"/><line x1="143.5" y1="385.7" x2="165.2" y2="382.9" stroke="#b8a8e0" stroke-width="1.56" stroke-opacity="0.315"/><line x1="183.8" y1="405.7" x2="147.7" y2="436.5" stroke="#4640c0" stroke-width="0.81" stroke-opacity="0.75"/><line x1="88.8" y1="412.5" x2="131.2" y2="433.8" stroke="#b8b8b8" stroke-width="0.6" stroke-opacity="0.375"/><line x1="88.4" y1="413.3" x2="130.8" y2="434.6" stroke="#4640c0" stroke-width="0.81" stroke-opacity="0.75"/><line x1="147.7" y1="436.5" x2="167.6" y2="429.6" stroke="#b8b8b8" stroke-width="0.6" stroke-opacity="0.375"/><line x1="130.9" y1="433.8" x2="167.5" y2="429.2" stroke="#b8a8e0" stroke-width="1.56" stroke-opacity="0.315"/><line x1="131.1" y1="434.6" x2="167.7" y2="430.0" stroke="#b8a8e0" stroke-width="1.56" stroke-opacity="0.315"/><line x1="155.4" y1="440.0" x2="206.7" y2="437.6" stroke="#b8a8e0" stroke-width="1.56" stroke-opacity="0.315"/><line x1="185.0" y1="387.7" x2="222.4" y2="426.0" stroke="#4640c0" stroke-width="0.81" stroke-opacity="0.75"/><line x1="166.5" y1="452.5" x2="211.5" y2="453.2" stroke="#b8b8b8" stroke-width="0.6" stroke-opacity="0.375"/><line x1="100.4" y1="428.5" x2="143.5" y2="461.5" stroke="#7a3aa8" stroke-width="0.6" stroke-opacity="0.75"/><line x1="122.8" y1="402.5" x2="100.4" y2="428.5" stroke="#7a3aa8" stroke-width="0.6" stroke-opacity="0.75"/><line x1="165.5" y1="382.5" x2="168.0" y2="429.6" stroke="#4640c0" stroke-width="0.81" stroke-opacity="0.75"/><line x1="164.7" y1="382.5" x2="167.2" y2="429.6" stroke="#b8a8e0" stroke-width="1.56" stroke-opacity="0.315"/><line x1="129.2" y1="397.3" x2="131.0" y2="434.2" stroke="#b8b8b8" stroke-width="0.6" stroke-opacity="0.375"/><line x1="143.4" y1="385.3" x2="185.0" y2="387.7" stroke="#4640c0" stroke-width="0.81" stroke-opacity="0.75"/><line x1="197.4" y1="417.0" x2="167.6" y2="429.6" stroke="#7a3aa8" stroke-width="0.6" stroke-opacity="0.75"/><line x1="185.4" y1="387.5" x2="197.8" y2="416.8" stroke="#ece030" stroke-width="0.6" stroke-opacity="0.75"/><line x1="184.6" y1="387.9" x2="197.0" y2="417.2" stroke="#4640c0" stroke-width="0.81" stroke-opacity="0.75"/><line x1="132.7" y1="446.6" x2="166.5" y2="452.5" stroke="#b8a8e0" stroke-width="1.56" stroke-opacity="0.315"/><line x1="168.0" y1="429.9" x2="143.9" y2="461.8" stroke="#4640c0" stroke-width="0.81" stroke-opacity="0.75"/><line x1="167.2" y1="429.3" x2="143.1" y2="461.2" stroke="#b8b8b8" stroke-width="0.6" stroke-opacity="0.375"/><line x1="90.5" y1="455.1" x2="143.6" y2="461.1" stroke="#ece030" stroke-width="0.6" stroke-opacity="0.75"/><line x1="90.3" y1="455.9" x2="143.4" y2="461.9" stroke="#b8b8b8" stroke-width="0.6" stroke-opacity="0.375"/><line x1="156.4" y1="394.0" x2="185.0" y2="387.7" stroke="#b8b8b8" stroke-width="0.6" stroke-opacity="0.375"/><line x1="100.5" y1="428.1" x2="147.8" y2="436.1" stroke="#d050c8" stroke-width="0.6" stroke-opacity="0.75"/><line x1="100.3" y1="428.9" x2="147.6" y2="436.9" stroke="#4640c0" stroke-width="0.81" stroke-opacity="0.75"/><line x1="132.7" y1="446.6" x2="185.8" y2="445.1" stroke="#b8a8e0" stroke-width="1.56" stroke-opacity="0.315"/><line x1="90.4" y1="455.5" x2="131.0" y2="434.2" stroke="#4640c0" stroke-width="0.81" stroke-opacity="0.75"/><line x1="185.4" y1="387.5" x2="207.1" y2="437.4" stroke="#7a3aa8" stroke-width="0.6" stroke-opacity="0.75"/><line x1="184.6" y1="387.9" x2="206.3" y2="437.8" stroke="#b8b8b8" stroke-width="0.6" stroke-opacity="0.375"/><line x1="78.6" y1="446.9" x2="130.8" y2="433.3" stroke="#4640c0" stroke-width="0.81" stroke-opacity="0.75"/><line x1="78.8" y1="447.8" x2="131.0" y2="434.2" stroke="#b8b8b8" stroke-width="0.6" stroke-opacity="0.375"/><line x1="79.0" y1="448.7" x2="131.2" y2="435.1" stroke="#4640c0" stroke-width="0.81" stroke-opacity="0.75"/><line x1="129.2" y1="397.3" x2="88.6" y2="412.9" stroke="#b8b8b8" stroke-width="0.6" stroke-opacity="0.375"/><line x1="81.5" y1="478.1" x2="122.1" y2="463.4" stroke="#7a3aa8" stroke-width="0.6" stroke-opacity="0.75"/><line x1="81.9" y1="478.9" x2="122.5" y2="464.2" stroke="#b8b8b8" stroke-width="0.6" stroke-opacity="0.375"/><line x1="78.8" y1="447.8" x2="122.9" y2="423.1" stroke="#4640c0" stroke-width="0.81" stroke-opacity="0.75"/><line x1="155.8" y1="440.2" x2="143.9" y2="461.7" stroke="#7a3aa8" stroke-width="0.6" stroke-opacity="0.75"/><line x1="155.0" y1="439.8" x2="143.1" y2="461.3" stroke="#7a3aa8" stroke-width="0.6" stroke-opacity="0.75"/><line x1="183.8" y1="405.7" x2="185.8" y2="445.1" stroke="#4640c0" stroke-width="0.81" stroke-opacity="0.75"/><line x1="131.0" y1="434.2" x2="155.4" y2="440.0" stroke="#b8a8e0" stroke-width="1.56" stroke-opacity="0.315"/><line x1="153.1" y1="408.6" x2="166.5" y2="452.5" stroke="#b8b8b8" stroke-width="0.6" stroke-opacity="0.375"/><line x1="101.0" y1="451.5" x2="143.5" y2="461.5" stroke="#d050c8" stroke-width="0.6" stroke-opacity="0.75"/><line x1="131.0" y1="434.2" x2="101.0" y2="451.5" stroke="#b8b8b8" stroke-width="0.6" stroke-opacity="0.375"/><line x1="129.6" y1="397.3" x2="133.1" y2="446.6" stroke="#b8b8b8" stroke-width="0.6" stroke-opacity="0.375"/><line x1="128.8" y1="397.3" x2="132.3" y2="446.6" stroke="#b8b8b8" stroke-width="0.6" stroke-opacity="0.375"/><line x1="88.6" y1="412.9" x2="90.4" y2="455.5" stroke="#7a3aa8" stroke-width="0.6" stroke-opacity="0.75"/><line x1="148.2" y1="437.2" x2="133.2" y2="447.3" stroke="#7a3aa8" stroke-width="0.6" stroke-opacity="0.75"/><line x1="147.7" y1="436.5" x2="132.7" y2="446.6" stroke="#7a3aa8" stroke-width="0.6" stroke-opacity="0.75"/><line x1="147.2" y1="435.8" x2="132.2" y2="445.9" stroke="#b8a8e0" stroke-width="1.56" stroke-opacity="0.315"/><line x1="123.2" y1="422.7" x2="166.8" y2="452.1" stroke="#4640c0" stroke-width="0.81" stroke-opacity="0.75"/><line x1="122.6" y1="423.5" x2="166.2" y2="452.9" stroke="#7a3aa8" stroke-width="0.6" stroke-opacity="0.75"/><line x1="101.0" y1="429.2" x2="79.4" y2="448.5" stroke="#7a3aa8" stroke-width="0.6" stroke-opacity="0.75"/><line x1="100.4" y1="428.5" x2="78.8" y2="447.8" stroke="#b8a8e0" stroke-width="1.56" stroke-opacity="0.315"/><line x1="99.8" y1="427.8" x2="78.2" y2="447.1" stroke="#ece030" stroke-width="0.6" stroke-opacity="0.75"/><line x1="129.1" y1="396.9" x2="156.3" y2="393.6" stroke="#b8b8b8" stroke-width="0.6" stroke-opacity="0.375"/><line x1="129.3" y1="397.7" x2="156.5" y2="394.4" stroke="#7a3aa8" stroke-width="0.6" stroke-opacity="0.75"/><line x1="78.8" y1="447.8" x2="132.7" y2="446.6" stroke="#4640c0" stroke-width="0.81" stroke-opacity="0.75"/><line x1="122.8" y1="402.5" x2="147.7" y2="436.5" stroke="#b8a8e0" stroke-width="1.56" stroke-opacity="0.315"/><line x1="122.9" y1="423.1" x2="101.0" y2="451.5" stroke="#b8b8b8" stroke-width="0.6" stroke-opacity="0.375"/><line x1="167.8" y1="428.7" x2="206.9" y2="436.7" stroke="#ece030" stroke-width="0.6" stroke-opacity="0.75"/><line x1="167.6" y1="429.6" x2="206.7" y2="437.6" stroke="#ece030" stroke-width="0.6" stroke-opacity="0.75"/><line x1="167.4" y1="430.5" x2="206.5" y2="438.5" stroke="#b8b8b8" stroke-width="0.6" stroke-opacity="0.375"/><line x1="153.1" y1="408.6" x2="147.7" y2="436.5" stroke="#4640c0" stroke-width="0.81" stroke-opacity="0.75"/><line x1="131.8" y1="433.8" x2="144.3" y2="461.1" stroke="#b8a8e0" stroke-width="1.56" stroke-opacity="0.315"/><line x1="131.0" y1="434.2" x2="143.5" y2="461.5" stroke="#4640c0" stroke-width="0.81" stroke-opacity="0.75"/><line x1="130.2" y1="434.6" x2="142.7" y2="461.9" stroke="#7a3aa8" stroke-width="0.6" stroke-opacity="0.75"/><line x1="156.8" y1="394.2" x2="131.4" y2="434.4" stroke="#b8a8e0" stroke-width="1.56" stroke-opacity="0.315"/><line x1="156.0" y1="393.8" x2="130.6" y2="434.0" stroke="#b8a8e0" stroke-width="1.56" stroke-opacity="0.315"/><line x1="156.8" y1="393.2" x2="184.2" y2="404.9" stroke="#4640c0" stroke-width="0.81" stroke-opacity="0.75"/><line x1="156.4" y1="394.0" x2="183.8" y2="405.7" stroke="#7a3aa8" stroke-width="0.6" stroke-opacity="0.75"/><line x1="156.0" y1="394.8" x2="183.4" y2="406.5" stroke="#d050c8" stroke-width="0.6" stroke-opacity="0.75"/><line x1="129.5" y1="397.6" x2="123.1" y2="402.8" stroke="#7a3aa8" stroke-width="0.6" stroke-opacity="0.75"/><line x1="128.9" y1="397.0" x2="122.5" y2="402.2" stroke="#b8b8b8" stroke-width="0.6" stroke-opacity="0.375"/><line x1="156.4" y1="394.0" x2="147.7" y2="436.5" stroke="#4640c0" stroke-width="0.81" stroke-opacity="0.75"/><line x1="123.2" y1="402.4" x2="133.1" y2="446.5" stroke="#b8b8b8" stroke-width="0.6" stroke-opacity="0.375"/><line x1="122.4" y1="402.6" x2="132.3" y2="446.7" stroke="#b8b8b8" stroke-width="0.6" stroke-opacity="0.375"/><line x1="184.0" y1="405.3" x2="222.6" y2="425.6" stroke="#b8a8e0" stroke-width="1.56" stroke-opacity="0.315"/><line x1="183.6" y1="406.1" x2="222.2" y2="426.4" stroke="#b8a8e0" stroke-width="1.56" stroke-opacity="0.315"/><line x1="100.4" y1="428.5" x2="81.7" y2="478.5" stroke="#d050c8" stroke-width="0.6" stroke-opacity="0.75"/><line x1="122.8" y1="402.5" x2="88.6" y2="412.9" stroke="#b8b8b8" stroke-width="0.6" stroke-opacity="0.375"/><line x1="222.4" y1="426.0" x2="211.5" y2="453.2" stroke="#7a3aa8" stroke-width="0.6" stroke-opacity="0.75"/><line x1="165.8" y1="381.9" x2="184.5" y2="405.1" stroke="#b8a8e0" stroke-width="1.56" stroke-opacity="0.315"/><line x1="165.1" y1="382.5" x2="183.8" y2="405.7" stroke="#b8a8e0" stroke-width="1.56" stroke-opacity="0.315"/><line x1="164.4" y1="383.1" x2="183.1" y2="406.3" stroke="#b8a8e0" stroke-width="1.56" stroke-opacity="0.315"/><line x1="156.1" y1="439.4" x2="167.2" y2="451.9" stroke="#b8a8e0" stroke-width="1.56" stroke-opacity="0.315"/><line x1="155.4" y1="440.0" x2="166.5" y2="452.5" stroke="#b8b8b8" stroke-width="0.6" stroke-opacity="0.375"/><line x1="154.7" y1="440.6" x2="165.8" y2="453.1" stroke="#7a3aa8" stroke-width="0.6" stroke-opacity="0.75"/><line x1="153.1" y1="408.6" x2="155.4" y2="440.0" stroke="#4640c0" stroke-width="0.81" stroke-opacity="0.75"/><line x1="147.8" y1="436.1" x2="185.9" y2="444.7" stroke="#7a3aa8" stroke-width="0.6" stroke-opacity="0.75"/><line x1="147.6" y1="436.9" x2="185.7" y2="445.5" stroke="#4640c0" stroke-width="0.81" stroke-opacity="0.75"/><line x1="197.6" y1="417.4" x2="155.6" y2="440.4" stroke="#b8a8e0" stroke-width="1.56" stroke-opacity="0.315"/><line x1="197.2" y1="416.6" x2="155.2" y2="439.6" stroke="#b8a8e0" stroke-width="1.56" stroke-opacity="0.315"/><line x1="166.5" y1="452.5" x2="206.7" y2="437.6" stroke="#4640c0" stroke-width="0.81" stroke-opacity="0.75"/><line x1="89.3" y1="412.4" x2="101.1" y2="428.0" stroke="#b8a8e0" stroke-width="1.56" stroke-opacity="0.315"/><line x1="88.6" y1="412.9" x2="100.4" y2="428.5" stroke="#7a3aa8" stroke-width="0.6" stroke-opacity="0.75"/><line x1="87.9" y1="413.4" x2="99.7" y2="429.0" stroke="#4640c0" stroke-width="0.81" stroke-opacity="0.75"/><line x1="143.6" y1="384.9" x2="184.0" y2="405.3" stroke="#7a3aa8" stroke-width="0.6" stroke-opacity="0.75"/><line x1="143.2" y1="385.7" x2="183.6" y2="406.1" stroke="#7a3aa8" stroke-width="0.6" stroke-opacity="0.75"/><line x1="123.0" y1="402.9" x2="73.5" y2="421.2" stroke="#4640c0" stroke-width="0.81" stroke-opacity="0.75"/><line x1="122.6" y1="402.1" x2="73.1" y2="420.4" stroke="#b8b8b8" stroke-width="0.6" stroke-opacity="0.375"/><line x1="147.9" y1="436.1" x2="155.6" y2="439.6" stroke="#b8a8e0" stroke-width="1.56" stroke-opacity="0.315"/><line x1="147.5" y1="436.9" x2="155.2" y2="440.4" stroke="#4640c0" stroke-width="0.81" stroke-opacity="0.75"/><line x1="143.7" y1="385.6" x2="129.5" y2="397.6" stroke="#b8a8e0" stroke-width="1.56" stroke-opacity="0.315"/><line x1="143.1" y1="385.0" x2="128.9" y2="397.0" stroke="#7a3aa8" stroke-width="0.6" stroke-opacity="0.75"/><line x1="183.8" y1="405.7" x2="206.7" y2="437.6" stroke="#b8a8e0" stroke-width="1.56" stroke-opacity="0.315"/><line x1="122.9" y1="423.1" x2="147.7" y2="436.5" stroke="#d050c8" stroke-width="0.6" stroke-opacity="0.75"/><line x1="143.4" y1="385.3" x2="156.4" y2="394.0" stroke="#7a3aa8" stroke-width="0.6" stroke-opacity="0.75"/><line x1="143.8" y1="385.4" x2="131.4" y2="434.3" stroke="#4640c0" stroke-width="0.81" stroke-opacity="0.75"/><line x1="143.0" y1="385.2" x2="130.6" y2="434.1" stroke="#b8b8b8" stroke-width="0.6" stroke-opacity="0.375"/><line x1="153.1" y1="408.6" x2="197.4" y2="417.0" stroke="#ece030" stroke-width="0.6" stroke-opacity="0.75"/><line x1="156.4" y1="394.0" x2="165.1" y2="382.5" stroke="#ece030" stroke-width="0.6" stroke-opacity="0.75"/><line x1="79.7" y1="447.7" x2="82.6" y2="478.4" stroke="#ece030" stroke-width="0.6" stroke-opacity="0.75"/><line x1="78.8" y1="447.8" x2="81.7" y2="478.5" stroke="#b8a8e0" stroke-width="1.56" stroke-opacity="0.315"/><line x1="77.9" y1="447.9" x2="80.8" y2="478.6" stroke="#b8b8b8" stroke-width="0.6" stroke-opacity="0.375"/><line x1="129.6" y1="396.5" x2="153.5" y2="407.8" stroke="#d050c8" stroke-width="0.6" stroke-opacity="0.75"/><line x1="129.2" y1="397.3" x2="153.1" y2="408.6" stroke="#b8a8e0" stroke-width="1.56" stroke-opacity="0.315"/><line x1="128.8" y1="398.1" x2="152.7" y2="409.4" stroke="#ece030" stroke-width="0.6" stroke-opacity="0.75"/><line x1="153.4" y1="408.9" x2="131.3" y2="434.5" stroke="#b8b8b8" stroke-width="0.6" stroke-opacity="0.375"/><line x1="152.8" y1="408.3" x2="130.7" y2="433.9" stroke="#7a3aa8" stroke-width="0.6" stroke-opacity="0.75"/><line x1="122.8" y1="402.5" x2="165.1" y2="382.5" stroke="#d050c8" stroke-width="0.6" stroke-opacity="0.75"/><line x1="129.6" y1="397.4" x2="123.3" y2="423.2" stroke="#b8b8b8" stroke-width="0.6" stroke-opacity="0.375"/><line x1="128.8" y1="397.2" x2="122.5" y2="423.0" stroke="#4640c0" stroke-width="0.81" stroke-opacity="0.75"/><line x1="154.8" y1="439.3" x2="167.0" y2="428.9" stroke="#b8b8b8" stroke-width="0.6" stroke-opacity="0.375"/><line x1="155.4" y1="440.0" x2="167.6" y2="429.6" stroke="#b8b8b8" stroke-width="0.6" stroke-opacity="0.375"/><line x1="156.0" y1="440.7" x2="168.2" y2="430.3" stroke="#7a3aa8" stroke-width="0.6" stroke-opacity="0.75"/><line x1="165.4" y1="382.2" x2="197.7" y2="416.7" stroke="#ece030" stroke-width="0.6" stroke-opacity="0.75"/><line x1="164.8" y1="382.8" x2="197.1" y2="417.3" stroke="#b8a8e0" stroke-width="1.56" stroke-opacity="0.315"/><line x1="153.5" y1="408.7" x2="143.9" y2="461.6" stroke="#4640c0" stroke-width="0.81" stroke-opacity="0.75"/><line x1="152.7" y1="408.5" x2="143.1" y2="461.4" stroke="#4640c0" stroke-width="0.81" stroke-opacity="0.75"/><line x1="184.4" y1="405.0" x2="198.0" y2="416.3" stroke="#4640c0" stroke-width="0.81" stroke-opacity="0.75"/><line x1="183.8" y1="405.7" x2="197.4" y2="417.0" stroke="#b8a8e0" stroke-width="1.56" stroke-opacity="0.315"/><line x1="183.2" y1="406.4" x2="196.8" y2="417.7" stroke="#b8a8e0" stroke-width="1.56" stroke-opacity="0.315"/><line x1="89.0" y1="412.8" x2="101.4" y2="451.4" stroke="#7a3aa8" stroke-width="0.6" stroke-opacity="0.75"/><line x1="88.2" y1="413.0" x2="100.6" y2="451.6" stroke="#4640c0" stroke-width="0.81" stroke-opacity="0.75"/><line x1="131.0" y1="434.2" x2="122.3" y2="463.8" stroke="#b8b8b8" stroke-width="0.6" stroke-opacity="0.375"/><line x1="100.8" y1="428.5" x2="101.4" y2="451.5" stroke="#4640c0" stroke-width="0.81" stroke-opacity="0.75"/><line x1="100.0" y1="428.5" x2="100.6" y2="451.5" stroke="#b8b8b8" stroke-width="0.6" stroke-opacity="0.375"/><line x1="165.2" y1="382.1" x2="185.1" y2="387.3" stroke="#7a3aa8" stroke-width="0.6" stroke-opacity="0.75"/><line x1="165.0" y1="382.9" x2="184.9" y2="388.1" stroke="#d050c8" stroke-width="0.6" stroke-opacity="0.75"/><line x1="90.3" y1="455.1" x2="132.6" y2="446.2" stroke="#7a3aa8" stroke-width="0.6" stroke-opacity="0.75"/><line x1="90.5" y1="455.9" x2="132.8" y2="447.0" stroke="#ece030" stroke-width="0.6" stroke-opacity="0.75"/><line x1="129.2" y1="397.3" x2="167.6" y2="429.6" stroke="#b8b8b8" stroke-width="0.6" stroke-opacity="0.375"/><line x1="143.7" y1="385.6" x2="123.1" y2="402.8" stroke="#7a3aa8" stroke-width="0.6" stroke-opacity="0.75"/><line x1="143.1" y1="385.0" x2="122.5" y2="402.2" stroke="#b8b8b8" stroke-width="0.6" stroke-opacity="0.375"/><line x1="122.9" y1="423.1" x2="132.7" y2="446.6" stroke="#ece030" stroke-width="0.6" stroke-opacity="0.75"/><line x1="185.4" y1="387.7" x2="184.2" y2="405.7" stroke="#b8b8b8" stroke-width="0.6" stroke-opacity="0.375"/><line x1="184.6" y1="387.7" x2="183.4" y2="405.7" stroke="#b8a8e0" stroke-width="1.56" stroke-opacity="0.315"/><line x1="88.8" y1="413.3" x2="73.5" y2="421.2" stroke="#7a3aa8" stroke-width="0.6" stroke-opacity="0.75"/><line x1="88.4" y1="412.5" x2="73.1" y2="420.4" stroke="#ece030" stroke-width="0.6" stroke-opacity="0.75"/><line x1="131.0" y1="434.2" x2="147.7" y2="436.5" stroke="#b8b8b8" stroke-width="0.6" stroke-opacity="0.375"/><line x1="153.1" y1="408.6" x2="122.9" y2="423.1" stroke="#7a3aa8" stroke-width="0.6" stroke-opacity="0.75"/><line x1="78.9" y1="447.4" x2="101.1" y2="451.1" stroke="#d050c8" stroke-width="0.6" stroke-opacity="0.75"/><line x1="78.7" y1="448.2" x2="100.9" y2="451.9" stroke="#d050c8" stroke-width="0.6" stroke-opacity="0.75"/><line x1="184.2" y1="406.0" x2="168.0" y2="429.9" stroke="#4640c0" stroke-width="0.81" stroke-opacity="0.75"/><line x1="183.4" y1="405.4" x2="167.2" y2="429.3" stroke="#4640c0" stroke-width="0.81" stroke-opacity="0.75"/><line x1="90.2" y1="455.1" x2="100.8" y2="451.1" stroke="#ece030" stroke-width="0.6" stroke-opacity="0.75"/><line x1="90.6" y1="455.9" x2="101.2" y2="451.9" stroke="#7a3aa8" stroke-width="0.6" stroke-opacity="0.75"/><line x1="143.4" y1="385.3" x2="122.9" y2="423.1" stroke="#d050c8" stroke-width="0.6" stroke-opacity="0.75"/><line x1="89.0" y1="413.0" x2="79.2" y2="447.9" stroke="#ece030" stroke-width="0.6" stroke-opacity="0.75"/><line x1="88.2" y1="412.8" x2="78.4" y2="447.7" stroke="#4640c0" stroke-width="0.81" stroke-opacity="0.75"/><line x1="166.5" y1="452.5" x2="143.5" y2="461.5" stroke="#7a3aa8" stroke-width="0.6" stroke-opacity="0.75"/><line x1="143.8" y1="385.3" x2="148.1" y2="436.5" stroke="#b8b8b8" stroke-width="0.6" stroke-opacity="0.375"/><line x1="143.0" y1="385.3" x2="147.3" y2="436.5" stroke="#7a3aa8" stroke-width="0.6" stroke-opacity="0.75"/><line x1="129.2" y1="397.3" x2="165.1" y2="382.5" stroke="#7a3aa8" stroke-width="0.6" stroke-opacity="0.75"/><line x1="129.9" y1="397.9" x2="101.1" y2="429.1" stroke="#b8a8e0" stroke-width="1.56" stroke-opacity="0.315"/><line x1="129.2" y1="397.3" x2="100.4" y2="428.5" stroke="#7a3aa8" stroke-width="0.6" stroke-opacity="0.75"/><line x1="128.5" y1="396.7" x2="99.7" y2="427.9" stroke="#7a3aa8" stroke-width="0.6" stroke-opacity="0.75"/><line x1="131.0" y1="434.2" x2="132.7" y2="446.6" stroke="#7a3aa8" stroke-width="0.6" stroke-opacity="0.75"/><line x1="143.4" y1="385.3" x2="153.1" y2="408.6" stroke="#7a3aa8" stroke-width="0.6" stroke-opacity="0.75"/><line x1="156.8" y1="393.2" x2="197.8" y2="416.2" stroke="#4640c0" stroke-width="0.81" stroke-opacity="0.75"/><line x1="156.4" y1="394.0" x2="197.4" y2="417.0" stroke="#4640c0" stroke-width="0.81" stroke-opacity="0.75"/><line x1="156.0" y1="394.8" x2="197.0" y2="417.8" stroke="#b8b8b8" stroke-width="0.6" stroke-opacity="0.375"/><line x1="185.8" y1="445.1" x2="143.5" y2="461.5" stroke="#4640c0" stroke-width="0.81" stroke-opacity="0.75"/><line x1="122.3" y1="463.4" x2="143.5" y2="461.1" stroke="#ece030" stroke-width="0.6" stroke-opacity="0.75"/><line x1="122.3" y1="464.2" x2="143.5" y2="461.9" stroke="#7a3aa8" stroke-width="0.6" stroke-opacity="0.75"/><line x1="100.5" y1="428.1" x2="131.1" y2="433.8" stroke="#b8b8b8" stroke-width="0.6" stroke-opacity="0.375"/><line x1="100.3" y1="428.9" x2="130.9" y2="434.6" stroke="#b8b8b8" stroke-width="0.6" stroke-opacity="0.375"/><line x1="155.4" y1="440.0" x2="122.3" y2="463.8" stroke="#b8a8e0" stroke-width="1.56" stroke-opacity="0.315"/><line x1="143.8" y1="385.1" x2="168.0" y2="429.4" stroke="#b8b8b8" stroke-width="0.6" stroke-opacity="0.375"/><line x1="143.0" y1="385.5" x2="167.2" y2="429.8" stroke="#4640c0" stroke-width="0.81" stroke-opacity="0.75"/><line x1="132.8" y1="447.5" x2="101.1" y2="452.4" stroke="#7a3aa8" stroke-width="0.6" stroke-opacity="0.75"/><line x1="132.7" y1="446.6" x2="101.0" y2="451.5" stroke="#b8b8b8" stroke-width="0.6" stroke-opacity="0.375"/><line x1="132.6" y1="445.7" x2="100.9" y2="450.6" stroke="#ece030" stroke-width="0.6" stroke-opacity="0.75"/><line x1="131.2" y1="433.8" x2="166.7" y2="452.1" stroke="#7a3aa8" stroke-width="0.6" stroke-opacity="0.75"/><line x1="130.8" y1="434.6" x2="166.3" y2="452.9" stroke="#4640c0" stroke-width="0.81" stroke-opacity="0.75"/><line x1="122.6" y1="401.6" x2="156.2" y2="393.1" stroke="#d050c8" stroke-width="0.6" stroke-opacity="0.75"/><line x1="122.8" y1="402.5" x2="156.4" y2="394.0" stroke="#b8a8e0" stroke-width="1.56" stroke-opacity="0.315"/><line x1="123.0" y1="403.4" x2="156.6" y2="394.9" stroke="#ece030" stroke-width="0.6" stroke-opacity="0.75"/><line x1="156.8" y1="394.1" x2="153.5" y2="408.7" stroke="#7a3aa8" stroke-width="0.6" stroke-opacity="0.75"/><line x1="156.0" y1="393.9" x2="152.7" y2="408.5" stroke="#b8b8b8" stroke-width="0.6" stroke-opacity="0.375"/><line x1="185.0" y1="387.7" x2="167.6" y2="429.6" stroke="#b8a8e0" stroke-width="1.56" stroke-opacity="0.315"/><line x1="91.2" y1="455.8" x2="82.5" y2="478.8" stroke="#b8b8b8" stroke-width="0.6" stroke-opacity="0.375"/><line x1="90.4" y1="455.5" x2="81.7" y2="478.5" stroke="#b8b8b8" stroke-width="0.6" stroke-opacity="0.375"/><line x1="89.6" y1="455.2" x2="80.9" y2="478.2" stroke="#7a3aa8" stroke-width="0.6" stroke-opacity="0.75"/><line x1="122.9" y1="402.1" x2="153.2" y2="408.2" stroke="#7a3aa8" stroke-width="0.6" stroke-opacity="0.75"/><line x1="122.7" y1="402.9" x2="153.0" y2="409.0" stroke="#b8a8e0" stroke-width="1.56" stroke-opacity="0.315"/><line x1="166.6" y1="452.9" x2="122.4" y2="464.2" stroke="#b8b8b8" stroke-width="0.6" stroke-opacity="0.375"/><line x1="166.4" y1="452.1" x2="122.2" y2="463.4" stroke="#b8b8b8" stroke-width="0.6" stroke-opacity="0.375"/><line x1="167.6" y1="429.6" x2="166.5" y2="452.5" stroke="#4640c0" stroke-width="0.81" stroke-opacity="0.75"/><line x1="168.0" y1="428.8" x2="211.9" y2="452.4" stroke="#b8b8b8" stroke-width="0.6" stroke-opacity="0.375"/><line x1="167.6" y1="429.6" x2="211.5" y2="453.2" stroke="#b8a8e0" stroke-width="1.56" stroke-opacity="0.315"/><line x1="167.2" y1="430.4" x2="211.1" y2="454.0" stroke="#4640c0" stroke-width="0.81" stroke-opacity="0.75"/><line x1="81.7" y1="478.5" x2="101.0" y2="451.5" stroke="#4640c0" stroke-width="0.81" stroke-opacity="0.75"/><line x1="123.3" y1="422.9" x2="143.9" y2="461.3" stroke="#4640c0" stroke-width="0.81" stroke-opacity="0.75"/><line x1="122.5" y1="423.3" x2="143.1" y2="461.7" stroke="#b8a8e0" stroke-width="1.56" stroke-opacity="0.315"/><line x1="153.1" y1="408.6" x2="185.0" y2="387.7" stroke="#7a3aa8" stroke-width="0.6" stroke-opacity="0.75"/><line x1="153.1" y1="408.6" x2="183.8" y2="405.7" stroke="#b8a8e0" stroke-width="1.56" stroke-opacity="0.315"/><line x1="155.4" y1="440.0" x2="185.8" y2="445.1" stroke="#7a3aa8" stroke-width="0.6" stroke-opacity="0.75"/><line x1="122.9" y1="423.1" x2="122.3" y2="463.8" stroke="#7a3aa8" stroke-width="0.6" stroke-opacity="0.75"/><line x1="207.6" y1="437.3" x2="212.4" y2="452.9" stroke="#7a3aa8" stroke-width="0.6" stroke-opacity="0.75"/><line x1="206.7" y1="437.6" x2="211.5" y2="453.2" stroke="#4640c0" stroke-width="0.81" stroke-opacity="0.75"/><line x1="205.8" y1="437.9" x2="210.6" y2="453.5" stroke="#4640c0" stroke-width="0.81" stroke-opacity="0.75"/><line x1="90.4" y1="455.5" x2="122.3" y2="463.8" stroke="#d050c8" stroke-width="0.6" stroke-opacity="0.75"/><line x1="147.8" y1="436.9" x2="101.1" y2="451.9" stroke="#b8b8b8" stroke-width="0.6" stroke-opacity="0.375"/><line x1="147.6" y1="436.1" x2="100.9" y2="451.1" stroke="#b8a8e0" stroke-width="1.56" stroke-opacity="0.315"/><line x1="89.8" y1="454.9" x2="122.3" y2="422.5" stroke="#7a3aa8" stroke-width="0.6" stroke-opacity="0.75"/><line x1="90.4" y1="455.5" x2="122.9" y2="423.1" stroke="#7a3aa8" stroke-width="0.6" stroke-opacity="0.75"/><line x1="91.0" y1="456.1" x2="123.5" y2="423.7" stroke="#4640c0" stroke-width="0.81" stroke-opacity="0.75"/><line x1="20.5" y1="384.3" x2="45.0" y2="397.5" stroke="#4640c0" stroke-width="1.08" stroke-opacity="0.85"/><line x1="206.7" y1="437.6" x2="183.8" y2="405.7" stroke="#ece030" stroke-width="0.8" stroke-opacity="0.85"/><line x1="206.7" y1="437.6" x2="147.7" y2="436.5" stroke="#ece030" stroke-width="0.8" stroke-opacity="0.85"/><line x1="206.7" y1="437.6" x2="167.6" y2="429.6" stroke="#ece030" stroke-width="0.8" stroke-opacity="0.85"/><line x1="222.4" y1="426.0" x2="167.6" y2="429.6" stroke="#ece030" stroke-width="0.8" stroke-opacity="0.85"/><line x1="211.5" y1="453.2" x2="185.8" y2="445.1" stroke="#ece030" stroke-width="0.8" stroke-opacity="0.85"/><line x1="185.0" y1="387.7" x2="167.6" y2="429.6" stroke="#ece030" stroke-width="0.8" stroke-opacity="0.85"/><line x1="206.7" y1="437.6" x2="155.4" y2="440.0" stroke="#ece030" stroke-width="0.8" stroke-opacity="0.85"/><line x1="222.4" y1="426.0" x2="185.8" y2="445.1" stroke="#ece030" stroke-width="0.8" stroke-opacity="0.85"/><line x1="197.4" y1="417.0" x2="166.5" y2="452.5" stroke="#ece030" stroke-width="0.8" stroke-opacity="0.85"/><line x1="183.8" y1="405.7" x2="185.8" y2="445.1" stroke="#ece030" stroke-width="0.8" stroke-opacity="0.85"/><line x1="143.9" y1="461.5" x2="146.2" y2="494.0" stroke="#b8a8e0" stroke-width="2.08" stroke-opacity="0.357"/><line x1="143.1" y1="461.5" x2="145.4" y2="494.0" stroke="#7a3aa8" stroke-width="0.8" stroke-opacity="0.85"/><line x1="143.5" y1="461.5" x2="133.8" y2="497.5" stroke="#b8a8e0" stroke-width="2.08" stroke-opacity="0.357"/><line x1="122.7" y1="463.7" x2="134.2" y2="497.4" stroke="#b8a8e0" stroke-width="2.08" stroke-opacity="0.357"/><line x1="121.9" y1="463.9" x2="133.4" y2="497.6" stroke="#b8b8b8" stroke-width="0.8" stroke-opacity="0.425"/><line x1="155.8" y1="476.0" x2="161.9" y2="506.1" stroke="#ece030" stroke-width="0.8" stroke-opacity="0.85"/><line x1="155.0" y1="476.2" x2="161.1" y2="506.3" stroke="#7a3aa8" stroke-width="0.8" stroke-opacity="0.85"/><line x1="178.8" y1="476.0" x2="161.9" y2="506.4" stroke="#b8b8b8" stroke-width="0.8" stroke-opacity="0.425"/><line x1="178.0" y1="475.6" x2="161.1" y2="506.0" stroke="#ece030" stroke-width="0.8" stroke-opacity="0.85"/><line x1="185.8" y1="445.1" x2="179.4" y2="501.1" stroke="#7a3aa8" stroke-width="0.8" stroke-opacity="0.85"/><line x1="155.4" y1="476.1" x2="166.5" y2="452.5" stroke="#ece030" stroke-width="0.8" stroke-opacity="0.85"/><line x1="161.5" y1="506.2" x2="166.5" y2="452.5" stroke="#ece030" stroke-width="0.8" stroke-opacity="0.85"/><line x1="179.4" y1="501.1" x2="185.8" y2="445.1" stroke="#ece030" stroke-width="0.8" stroke-opacity="0.85"/><line x1="155.1" y1="476.4" x2="143.2" y2="461.8" stroke="#b8a8e0" stroke-width="2.08" stroke-opacity="0.357"/><line x1="155.7" y1="475.8" x2="143.8" y2="461.2" stroke="#4640c0" stroke-width="1.08" stroke-opacity="0.85"/><line x1="155.4" y1="476.1" x2="166.5" y2="452.5" stroke="#7a3aa8" stroke-width="0.8" stroke-opacity="0.85"/><line x1="178.0" y1="476.0" x2="166.1" y2="452.7" stroke="#4640c0" stroke-width="1.08" stroke-opacity="0.85"/><line x1="178.8" y1="475.6" x2="166.9" y2="452.3" stroke="#b8a8e0" stroke-width="2.08" stroke-opacity="0.357"/><line x1="178.4" y1="475.8" x2="185.8" y2="445.1" stroke="#7a3aa8" stroke-width="0.8" stroke-opacity="0.85"/><line x1="199.4" y1="463.8" x2="185.4" y2="445.4" stroke="#b8b8b8" stroke-width="0.8" stroke-opacity="0.425"/><line x1="200.2" y1="463.2" x2="186.2" y2="444.8" stroke="#7a3aa8" stroke-width="0.8" stroke-opacity="0.85"/><line x1="199.8" y1="463.5" x2="222.4" y2="426.0" stroke="#b8b8b8" stroke-width="0.8" stroke-opacity="0.425"/><line x1="195.4" y1="490.8" x2="185.8" y2="445.1" stroke="#b8b8b8" stroke-width="0.8" stroke-opacity="0.425"/><line x1="195.4" y1="490.8" x2="178.4" y2="475.8" stroke="#b8b8b8" stroke-width="0.8" stroke-opacity="0.425"/><line x1="189.4" y1="507.9" x2="178.4" y2="475.8" stroke="#b8b8b8" stroke-width="0.8" stroke-opacity="0.425"/><line x1="122.3" y1="463.8" x2="143.5" y2="461.5" stroke="#b8b8b8" stroke-width="0.8" stroke-opacity="0.425"/><line x1="122.3" y1="463.8" x2="132.7" y2="446.6" stroke="#7a3aa8" stroke-width="0.8" stroke-opacity="0.85"/><line x1="122.1" y1="464.2" x2="100.8" y2="451.9" stroke="#b8b8b8" stroke-width="0.8" stroke-opacity="0.425"/><line x1="122.5" y1="463.4" x2="101.2" y2="451.1" stroke="#b8a8e0" stroke-width="2.08" stroke-opacity="0.357"/><line x1="143.1" y1="461.7" x2="130.6" y2="434.4" stroke="#b8a8e0" stroke-width="2.08" stroke-opacity="0.357"/><line x1="143.9" y1="461.3" x2="131.4" y2="434.0" stroke="#7a3aa8" stroke-width="0.8" stroke-opacity="0.85"/><line x1="143.5" y1="461.5" x2="132.7" y2="446.6" stroke="#4640c0" stroke-width="1.08" stroke-opacity="0.85"/><line x1="155.4" y1="476.1" x2="147.7" y2="436.5" stroke="#b8a8e0" stroke-width="2.08" stroke-opacity="0.357"/><line x1="155.0" y1="476.1" x2="155.0" y2="440.0" stroke="#7a3aa8" stroke-width="0.8" stroke-opacity="0.85"/><line x1="155.8" y1="476.1" x2="155.8" y2="440.0" stroke="#ece030" stroke-width="0.8" stroke-opacity="0.85"/><line x1="145.8" y1="494.0" x2="101.0" y2="451.5" stroke="#b8b8b8" stroke-width="0.8" stroke-opacity="0.425"/><line x1="133.8" y1="497.5" x2="122.3" y2="463.8" stroke="#b8b8b8" stroke-width="0.8" stroke-opacity="0.425"/><line x1="178.4" y1="475.8" x2="206.7" y2="437.6" stroke="#b8b8b8" stroke-width="0.8" stroke-opacity="0.425"/><line x1="199.8" y1="463.5" x2="211.5" y2="453.2" stroke="#4640c0" stroke-width="1.08" stroke-opacity="0.85"/><line x1="199.8" y1="463.5" x2="206.7" y2="437.6" stroke="#ece030" stroke-width="0.8" stroke-opacity="0.85"/><line x1="45.0" y1="397.5" x2="106.5" y2="384.6" stroke="#b8b8b8" stroke-width="0.8" stroke-opacity="0.425"/><line x1="45.0" y1="397.5" x2="78.8" y2="447.8" stroke="#b8b8b8" stroke-width="0.8" stroke-opacity="0.425"/><line x1="145.0" y1="337.7" x2="156.4" y2="394.0" stroke="#b8b8b8" stroke-width="0.8" stroke-opacity="0.425"/><line x1="140.8" y1="365.2" x2="165.1" y2="382.5" stroke="#7a3aa8" stroke-width="0.8" stroke-opacity="0.85"/><line x1="140.8" y1="365.2" x2="143.4" y2="385.3" stroke="#b8b8b8" stroke-width="0.8" stroke-opacity="0.425"/><line x1="141.2" y1="365.0" x2="156.8" y2="393.8" stroke="#b8b8b8" stroke-width="0.8" stroke-opacity="0.425"/><line x1="140.4" y1="365.4" x2="156.0" y2="394.2" stroke="#b8a8e0" stroke-width="2.08" stroke-opacity="0.357"/><line x1="179.2" y1="349.4" x2="165.1" y2="382.5" stroke="#4640c0" stroke-width="1.08" stroke-opacity="0.85"/><line x1="179.2" y1="349.4" x2="185.0" y2="387.7" stroke="#b8b8b8" stroke-width="0.8" stroke-opacity="0.425"/><line x1="140.8" y1="365.2" x2="143.4" y2="385.3" stroke="#4640c0" stroke-width="1.08" stroke-opacity="0.85"/><line x1="211.9" y1="374.8" x2="185.0" y2="387.7" stroke="#e03020" stroke-width="0.8" stroke-opacity="0.85"/><line x1="212.2" y1="375.1" x2="184.1" y2="406.0" stroke="#e03020" stroke-width="0.8" stroke-opacity="0.85"/><line x1="211.6" y1="374.5" x2="183.5" y2="405.4" stroke="#ece030" stroke-width="0.8" stroke-opacity="0.85"/><line x1="211.9" y1="374.8" x2="167.6" y2="429.6" stroke="#55b030" stroke-width="0.8" stroke-opacity="0.85"/><line x1="243.6" y1="415.4" x2="211.5" y2="453.2" stroke="#7a3aa8" stroke-width="0.8" stroke-opacity="0.85"/><line x1="222.4" y1="426.0" x2="206.7" y2="437.6" stroke="#ece030" stroke-width="0.8" stroke-opacity="0.85"/><line x1="222.4" y1="426.0" x2="211.5" y2="453.2" stroke="#ece030" stroke-width="0.8" stroke-opacity="0.85"/><line x1="253.4" y1="450.6" x2="211.5" y2="453.2" stroke="#b8b8b8" stroke-width="0.8" stroke-opacity="0.425"/><line x1="253.4" y1="450.6" x2="199.8" y2="463.5" stroke="#b8b8b8" stroke-width="0.8" stroke-opacity="0.425"/><line x1="255.3" y1="497.2" x2="199.8" y2="463.5" stroke="#b8b8b8" stroke-width="0.8" stroke-opacity="0.425"/><line x1="199.8" y1="463.5" x2="221.4" y2="495.8" stroke="#d050c8" stroke-width="0.8" stroke-opacity="0.85"/><line x1="195.4" y1="490.8" x2="221.4" y2="495.8" stroke="#d050c8" stroke-width="0.8" stroke-opacity="0.85"/><line x1="195.4" y1="490.8" x2="189.4" y2="507.9" stroke="#7a3aa8" stroke-width="0.8" stroke-opacity="0.85"/><line x1="112.7" y1="503.7" x2="122.3" y2="463.8" stroke="#d050c8" stroke-width="0.8" stroke-opacity="0.85"/><line x1="133.8" y1="497.5" x2="157.3" y2="523.5" stroke="#222" stroke-width="1.08" stroke-opacity="0.85"/><line x1="133.9" y1="527.3" x2="161.2" y2="505.8" stroke="#b8a8e0" stroke-width="2.08" stroke-opacity="0.357"/><line x1="134.5" y1="528.1" x2="161.8" y2="506.6" stroke="#4640c0" stroke-width="1.08" stroke-opacity="0.85"/><line x1="134.2" y1="527.7" x2="145.8" y2="494.0" stroke="#4640c0" stroke-width="1.08" stroke-opacity="0.85"/><line x1="161.5" y1="506.2" x2="157.3" y2="523.5" stroke="#d050c8" stroke-width="0.8" stroke-opacity="0.85"/><line x1="161.1" y1="506.3" x2="155.0" y2="476.2" stroke="#b8a8e0" stroke-width="2.08" stroke-opacity="0.357"/><line x1="161.9" y1="506.1" x2="155.8" y2="476.0" stroke="#7a3aa8" stroke-width="0.8" stroke-opacity="0.85"/><line x1="161.5" y1="506.2" x2="189.4" y2="507.9" stroke="#b8a8e0" stroke-width="2.08" stroke-opacity="0.357"/><line x1="179.4" y1="501.1" x2="178.4" y2="475.8" stroke="#7a3aa8" stroke-width="0.8" stroke-opacity="0.85"/><line x1="62.3" y1="473.6" x2="90.2" y2="455.1" stroke="#222" stroke-width="1.08" stroke-opacity="0.85"/><line x1="62.7" y1="474.4" x2="90.6" y2="455.9" stroke="#b8a8e0" stroke-width="2.08" stroke-opacity="0.357"/><line x1="81.7" y1="478.5" x2="61.5" y2="492.7" stroke="#4640c0" stroke-width="1.08" stroke-opacity="0.85"/><line x1="78.8" y1="447.8" x2="81.7" y2="478.5" stroke="#d050c8" stroke-width="0.8" stroke-opacity="0.85"/><line x1="73.7" y1="420.7" x2="79.2" y2="447.7" stroke="#b8a8e0" stroke-width="2.08" stroke-opacity="0.357"/><line x1="72.9" y1="420.9" x2="78.4" y2="447.9" stroke="#b8b8b8" stroke-width="0.8" stroke-opacity="0.425"/><line x1="73.3" y1="420.8" x2="88.6" y2="412.9" stroke="#7a3aa8" stroke-width="0.8" stroke-opacity="0.85"/><line x1="145.8" y1="494.0" x2="122.9" y2="423.1" stroke="#b8a8e0" stroke-width="2.08" stroke-opacity="0.357"/><line x1="106.5" y1="384.6" x2="99.2" y2="396.6" stroke="#d050c8" stroke-width="0.8" stroke-opacity="0.85"/><line x1="106.5" y1="384.6" x2="129.2" y2="397.3" stroke="#b8b8b8" stroke-width="0.8" stroke-opacity="0.425"/><line x1="99.3" y1="396.2" x2="122.9" y2="402.1" stroke="#b8a8e0" stroke-width="2.08" stroke-opacity="0.357"/><line x1="99.1" y1="397.0" x2="122.7" y2="402.9" stroke="#7a3aa8" stroke-width="0.8" stroke-opacity="0.85"/><line x1="99.2" y1="396.6" x2="88.6" y2="412.9" stroke="#7a3aa8" stroke-width="0.8" stroke-opacity="0.85"/><line x1="99.6" y1="396.6" x2="100.8" y2="428.5" stroke="#b8a8e0" stroke-width="2.08" stroke-opacity="0.357"/><line x1="98.8" y1="396.6" x2="100.0" y2="428.5" stroke="#4640c0" stroke-width="1.08" stroke-opacity="0.85"/><line x1="99.2" y1="396.6" x2="73.3" y2="420.8" stroke="#b8b8b8" stroke-width="0.8" stroke-opacity="0.425"/><line x1="99.2" y1="396.6" x2="122.9" y2="423.1" stroke="#7a3aa8" stroke-width="0.8" stroke-opacity="0.85"/><line x1="99.2" y1="396.6" x2="129.2" y2="397.3" stroke="#b8b8b8" stroke-width="0.8" stroke-opacity="0.425"/><line x1="165.2" y1="382.9" x2="143.5" y2="385.7" stroke="#7a3aa8" stroke-width="0.8" stroke-opacity="0.85"/><line x1="165.0" y1="382.1" x2="143.3" y2="384.9" stroke="#4640c0" stroke-width="1.08" stroke-opacity="0.85"/><line x1="165.1" y1="382.5" x2="185.0" y2="387.7" stroke="#7a3aa8" stroke-width="0.8" stroke-opacity="0.85"/><line x1="145.8" y1="494.0" x2="133.8" y2="497.5" stroke="#b8b8b8" stroke-width="0.8" stroke-opacity="0.425"/><line x1="415.6" y1="388.7" x2="348.7" y2="401.3" stroke="#b8b8b8" stroke-width="0.8" stroke-opacity="0.3"/><line x1="415.4" y1="387.9" x2="348.5" y2="400.5" stroke="#7a3aa8" stroke-width="0.8" stroke-opacity="0.6"/><line x1="371.4" y1="415.6" x2="396.2" y2="430.4" stroke="#b8a8e0" stroke-width="2.08" stroke-opacity="0.252"/><line x1="401.9" y1="409.6" x2="363.8" y2="456.2" stroke="#b8b8b8" stroke-width="0.8" stroke-opacity="0.3"/><line x1="349.0" y1="400.9" x2="346.8" y2="473.5" stroke="#b8b8b8" stroke-width="0.8" stroke-opacity="0.3"/><line x1="348.2" y1="400.9" x2="346.0" y2="473.5" stroke="#b8b8b8" stroke-width="0.8" stroke-opacity="0.3"/><line x1="327.2" y1="428.8" x2="363.8" y2="456.2" stroke="#b8a8e0" stroke-width="2.08" stroke-opacity="0.252"/><line x1="395.0" y1="379.2" x2="451.0" y2="417.2" stroke="#b8a8e0" stroke-width="2.08" stroke-opacity="0.252"/><line x1="425.6" y1="462.0" x2="451.0" y2="468.3" stroke="#b8b8b8" stroke-width="0.8" stroke-opacity="0.3"/><line x1="483.6" y1="420.5" x2="451.0" y2="468.3" stroke="#b8a8e0" stroke-width="2.08" stroke-opacity="0.252"/><line x1="363.8" y1="456.2" x2="375.0" y2="489.2" stroke="#b8b8b8" stroke-width="0.8" stroke-opacity="0.3"/><line x1="388.4" y1="341.2" x2="395.0" y2="379.2" stroke="#b8b8b8" stroke-width="0.8" stroke-opacity="0.3"/><line x1="403.5" y1="444.3" x2="465.0" y2="444.7" stroke="#b8a8e0" stroke-width="2.08" stroke-opacity="0.252"/><line x1="403.5" y1="445.2" x2="465.0" y2="445.6" stroke="#7a3aa8" stroke-width="0.8" stroke-opacity="0.6"/><line x1="403.5" y1="446.1" x2="465.0" y2="446.5" stroke="#b8b8b8" stroke-width="0.8" stroke-opacity="0.3"/><line x1="413.1" y1="356.0" x2="395.7" y2="379.7" stroke="#b8b8b8" stroke-width="0.8" stroke-opacity="0.3"/><line x1="412.4" y1="355.5" x2="395.0" y2="379.2" stroke="#b8b8b8" stroke-width="0.8" stroke-opacity="0.3"/><line x1="411.7" y1="355.0" x2="394.3" y2="378.7" stroke="#d050c8" stroke-width="0.8" stroke-opacity="0.6"/><line x1="451.0" y1="417.2" x2="451.0" y2="468.3" stroke="#b8b8b8" stroke-width="0.8" stroke-opacity="0.3"/><line x1="432.4" y1="414.2" x2="404.2" y2="445.8" stroke="#b8a8e0" stroke-width="2.08" stroke-opacity="0.252"/><line x1="431.7" y1="413.6" x2="403.5" y2="445.2" stroke="#b8b8b8" stroke-width="0.8" stroke-opacity="0.3"/><line x1="431.0" y1="413.0" x2="402.8" y2="444.6" stroke="#7a3aa8" stroke-width="0.8" stroke-opacity="0.6"/><line x1="403.9" y1="446.0" x2="346.8" y2="474.3" stroke="#d050c8" stroke-width="0.8" stroke-opacity="0.6"/><line x1="403.5" y1="445.2" x2="346.4" y2="473.5" stroke="#b8b8b8" stroke-width="0.8" stroke-opacity="0.3"/><line x1="403.1" y1="444.4" x2="346.0" y2="472.7" stroke="#b8b8b8" stroke-width="0.8" stroke-opacity="0.3"/><line x1="396.4" y1="429.5" x2="465.2" y2="444.7" stroke="#b8b8b8" stroke-width="0.8" stroke-opacity="0.3"/><line x1="396.2" y1="430.4" x2="465.0" y2="445.6" stroke="#7a3aa8" stroke-width="0.8" stroke-opacity="0.6"/><line x1="396.0" y1="431.3" x2="464.8" y2="446.5" stroke="#b8a8e0" stroke-width="2.08" stroke-opacity="0.252"/><line x1="401.9" y1="409.6" x2="451.0" y2="417.2" stroke="#b8b8b8" stroke-width="0.8" stroke-opacity="0.3"/><line x1="465.8" y1="446.1" x2="451.8" y2="468.8" stroke="#b8b8b8" stroke-width="0.8" stroke-opacity="0.3"/><line x1="465.0" y1="445.6" x2="451.0" y2="468.3" stroke="#d050c8" stroke-width="0.8" stroke-opacity="0.6"/><line x1="464.2" y1="445.1" x2="450.2" y2="467.8" stroke="#b8b8b8" stroke-width="0.8" stroke-opacity="0.3"/><line x1="371.4" y1="415.6" x2="346.4" y2="473.5" stroke="#d050c8" stroke-width="0.8" stroke-opacity="0.6"/><line x1="327.2" y1="428.8" x2="323.6" y2="473.8" stroke="#b8b8b8" stroke-width="0.8" stroke-opacity="0.3"/><line x1="348.6" y1="400.9" x2="371.4" y2="415.6" stroke="#d050c8" stroke-width="0.8" stroke-opacity="0.6"/><line x1="412.4" y1="355.5" x2="415.5" y2="388.3" stroke="#b8b8b8" stroke-width="0.8" stroke-opacity="0.3"/><line x1="403.6" y1="445.6" x2="363.9" y2="456.6" stroke="#b8b8b8" stroke-width="0.8" stroke-opacity="0.3"/><line x1="403.4" y1="444.8" x2="363.7" y2="455.8" stroke="#7a3aa8" stroke-width="0.8" stroke-opacity="0.6"/><line x1="432.1" y1="413.7" x2="426.0" y2="462.1" stroke="#b8a8e0" stroke-width="2.08" stroke-opacity="0.252"/><line x1="431.3" y1="413.5" x2="425.2" y2="461.9" stroke="#7a3aa8" stroke-width="0.8" stroke-opacity="0.6"/><line x1="415.5" y1="388.3" x2="371.4" y2="415.6" stroke="#b8a8e0" stroke-width="2.08" stroke-opacity="0.252"/><line x1="425.8" y1="462.4" x2="375.2" y2="489.6" stroke="#d050c8" stroke-width="0.8" stroke-opacity="0.6"/><line x1="425.4" y1="461.6" x2="374.8" y2="488.8" stroke="#b8b8b8" stroke-width="0.8" stroke-opacity="0.3"/><line x1="415.5" y1="388.3" x2="401.9" y2="409.6" stroke="#d050c8" stroke-width="0.8" stroke-opacity="0.6"/><line x1="388.8" y1="341.1" x2="402.3" y2="409.5" stroke="#b8b8b8" stroke-width="0.8" stroke-opacity="0.3"/><line x1="388.0" y1="341.3" x2="401.5" y2="409.7" stroke="#7a3aa8" stroke-width="0.8" stroke-opacity="0.6"/><line x1="371.4" y1="415.6" x2="375.0" y2="489.2" stroke="#b8b8b8" stroke-width="0.8" stroke-opacity="0.3"/><line x1="323.6" y1="473.8" x2="375.0" y2="489.2" stroke="#7a3aa8" stroke-width="0.8" stroke-opacity="0.6"/><line x1="364.4" y1="377.7" x2="348.6" y2="400.9" stroke="#b8a8e0" stroke-width="2.08" stroke-opacity="0.252"/><line x1="415.5" y1="388.3" x2="396.2" y2="430.4" stroke="#b8a8e0" stroke-width="2.08" stroke-opacity="0.252"/><line x1="395.8" y1="379.7" x2="372.2" y2="416.1" stroke="#b8b8b8" stroke-width="0.8" stroke-opacity="0.3"/><line x1="395.0" y1="379.2" x2="371.4" y2="415.6" stroke="#b8a8e0" stroke-width="2.08" stroke-opacity="0.252"/><line x1="394.2" y1="378.7" x2="370.6" y2="415.1" stroke="#b8a8e0" stroke-width="2.08" stroke-opacity="0.252"/><line x1="348.8" y1="400.5" x2="396.4" y2="430.0" stroke="#b8b8b8" stroke-width="0.8" stroke-opacity="0.3"/><line x1="348.4" y1="401.3" x2="396.0" y2="430.8" stroke="#7a3aa8" stroke-width="0.8" stroke-opacity="0.6"/><line x1="348.6" y1="400.9" x2="363.8" y2="456.2" stroke="#b8a8e0" stroke-width="2.08" stroke-opacity="0.252"/><line x1="401.9" y1="409.6" x2="396.2" y2="430.4" stroke="#b8b8b8" stroke-width="0.8" stroke-opacity="0.3"/><line x1="451.0" y1="416.8" x2="483.6" y2="420.1" stroke="#b8b8b8" stroke-width="0.8" stroke-opacity="0.3"/><line x1="451.0" y1="417.6" x2="483.6" y2="420.9" stroke="#7a3aa8" stroke-width="0.8" stroke-opacity="0.6"/><line x1="348.7" y1="400.5" x2="402.0" y2="409.2" stroke="#b8b8b8" stroke-width="0.8" stroke-opacity="0.3"/><line x1="348.5" y1="401.3" x2="401.8" y2="410.0" stroke="#b8a8e0" stroke-width="2.08" stroke-opacity="0.252"/><line x1="349.3" y1="401.4" x2="327.9" y2="429.3" stroke="#b8b8b8" stroke-width="0.8" stroke-opacity="0.3"/><line x1="348.6" y1="400.9" x2="327.2" y2="428.8" stroke="#7a3aa8" stroke-width="0.8" stroke-opacity="0.6"/><line x1="347.9" y1="400.4" x2="326.5" y2="428.3" stroke="#b8a8e0" stroke-width="2.08" stroke-opacity="0.252"/><line x1="396.5" y1="430.7" x2="346.7" y2="473.8" stroke="#b8a8e0" stroke-width="2.08" stroke-opacity="0.252"/><line x1="395.9" y1="430.1" x2="346.1" y2="473.2" stroke="#b8a8e0" stroke-width="2.08" stroke-opacity="0.252"/><line x1="431.7" y1="413.6" x2="465.0" y2="445.6" stroke="#b8a8e0" stroke-width="2.08" stroke-opacity="0.252"/><line x1="389.1" y1="341.7" x2="349.3" y2="401.4" stroke="#d050c8" stroke-width="0.8" stroke-opacity="0.6"/><line x1="388.4" y1="341.2" x2="348.6" y2="400.9" stroke="#b8a8e0" stroke-width="2.08" stroke-opacity="0.252"/><line x1="387.7" y1="340.7" x2="347.9" y2="400.4" stroke="#b8b8b8" stroke-width="0.8" stroke-opacity="0.3"/><line x1="451.5" y1="418.0" x2="404.0" y2="446.0" stroke="#7a3aa8" stroke-width="0.8" stroke-opacity="0.6"/><line x1="451.0" y1="417.2" x2="403.5" y2="445.2" stroke="#b8a8e0" stroke-width="2.08" stroke-opacity="0.252"/><line x1="450.5" y1="416.4" x2="403.0" y2="444.4" stroke="#b8a8e0" stroke-width="2.08" stroke-opacity="0.252"/><line x1="484.0" y1="420.8" x2="465.4" y2="445.9" stroke="#b8b8b8" stroke-width="0.8" stroke-opacity="0.3"/><line x1="483.2" y1="420.2" x2="464.6" y2="445.3" stroke="#b8b8b8" stroke-width="0.8" stroke-opacity="0.3"/><line x1="431.7" y1="413.6" x2="396.2" y2="430.4" stroke="#b8a8e0" stroke-width="2.08" stroke-opacity="0.252"/><line x1="432.1" y1="413.5" x2="451.4" y2="468.2" stroke="#b8a8e0" stroke-width="2.08" stroke-opacity="0.252"/><line x1="431.3" y1="413.7" x2="450.6" y2="468.4" stroke="#b8b8b8" stroke-width="0.8" stroke-opacity="0.3"/><line x1="327.2" y1="427.9" x2="396.2" y2="429.5" stroke="#d050c8" stroke-width="0.8" stroke-opacity="0.6"/><line x1="327.2" y1="428.8" x2="396.2" y2="430.4" stroke="#b8b8b8" stroke-width="0.8" stroke-opacity="0.3"/><line x1="327.2" y1="429.7" x2="396.2" y2="431.3" stroke="#d050c8" stroke-width="0.8" stroke-opacity="0.6"/><line x1="346.4" y1="473.5" x2="375.0" y2="489.2" stroke="#b8b8b8" stroke-width="0.8" stroke-opacity="0.3"/><line x1="365.2" y1="377.2" x2="397.0" y2="429.9" stroke="#b8b8b8" stroke-width="0.8" stroke-opacity="0.3"/><line x1="364.4" y1="377.7" x2="396.2" y2="430.4" stroke="#b8b8b8" stroke-width="0.8" stroke-opacity="0.3"/><line x1="363.6" y1="378.2" x2="395.4" y2="430.9" stroke="#b8b8b8" stroke-width="0.8" stroke-opacity="0.3"/><line x1="395.3" y1="378.9" x2="432.0" y2="413.3" stroke="#7a3aa8" stroke-width="0.8" stroke-opacity="0.6"/><line x1="394.7" y1="379.5" x2="431.4" y2="413.9" stroke="#b8b8b8" stroke-width="0.8" stroke-opacity="0.3"/><line x1="401.9" y1="409.6" x2="425.6" y2="462.0" stroke="#b8b8b8" stroke-width="0.8" stroke-opacity="0.3"/><line x1="371.4" y1="414.7" x2="431.7" y2="412.7" stroke="#b8b8b8" stroke-width="0.8" stroke-opacity="0.3"/><line x1="371.4" y1="415.6" x2="431.7" y2="413.6" stroke="#7a3aa8" stroke-width="0.8" stroke-opacity="0.6"/><line x1="371.4" y1="416.5" x2="431.7" y2="414.5" stroke="#b8b8b8" stroke-width="0.8" stroke-opacity="0.3"/><line x1="412.4" y1="355.5" x2="431.7" y2="413.6" stroke="#b8b8b8" stroke-width="0.8" stroke-opacity="0.3"/><line x1="396.2" y1="430.4" x2="425.6" y2="462.0" stroke="#b8b8b8" stroke-width="0.8" stroke-opacity="0.3"/><line x1="348.6" y1="400.9" x2="403.5" y2="445.2" stroke="#b8b8b8" stroke-width="0.8" stroke-opacity="0.3"/><line x1="371.3" y1="415.2" x2="401.8" y2="409.2" stroke="#b8b8b8" stroke-width="0.8" stroke-opacity="0.3"/><line x1="371.5" y1="416.0" x2="402.0" y2="410.0" stroke="#b8b8b8" stroke-width="0.8" stroke-opacity="0.3"/><line x1="451.4" y1="417.4" x2="426.0" y2="462.2" stroke="#7a3aa8" stroke-width="0.8" stroke-opacity="0.6"/><line x1="450.6" y1="417.0" x2="425.2" y2="461.8" stroke="#b8a8e0" stroke-width="2.08" stroke-opacity="0.252"/><line x1="415.9" y1="388.4" x2="403.9" y2="445.3" stroke="#b8b8b8" stroke-width="0.8" stroke-opacity="0.3"/><line x1="415.1" y1="388.2" x2="403.1" y2="445.1" stroke="#b8b8b8" stroke-width="0.8" stroke-opacity="0.3"/><line x1="412.4" y1="355.5" x2="451.0" y2="417.2" stroke="#b8a8e0" stroke-width="2.08" stroke-opacity="0.252"/><line x1="396.2" y1="430.4" x2="363.8" y2="456.2" stroke="#b8a8e0" stroke-width="2.08" stroke-opacity="0.252"/><line x1="364.8" y1="378.0" x2="327.6" y2="429.1" stroke="#b8b8b8" stroke-width="0.8" stroke-opacity="0.3"/><line x1="364.0" y1="377.4" x2="326.8" y2="428.5" stroke="#d050c8" stroke-width="0.8" stroke-opacity="0.6"/><line x1="412.4" y1="355.5" x2="401.9" y2="409.6" stroke="#b8a8e0" stroke-width="2.08" stroke-opacity="0.252"/><line x1="401.9" y1="409.6" x2="403.5" y2="445.2" stroke="#b8a8e0" stroke-width="2.08" stroke-opacity="0.252"/><line x1="395.0" y1="379.2" x2="348.6" y2="400.9" stroke="#b8a8e0" stroke-width="2.08" stroke-opacity="0.252"/><line x1="327.6" y1="428.6" x2="346.8" y2="473.3" stroke="#b8a8e0" stroke-width="2.08" stroke-opacity="0.252"/><line x1="326.8" y1="429.0" x2="346.0" y2="473.7" stroke="#b8a8e0" stroke-width="2.08" stroke-opacity="0.252"/><line x1="395.0" y1="379.2" x2="396.2" y2="430.4" stroke="#b8b8b8" stroke-width="0.8" stroke-opacity="0.3"/><line x1="364.0" y1="456.6" x2="323.8" y2="474.2" stroke="#d050c8" stroke-width="0.8" stroke-opacity="0.6"/><line x1="363.6" y1="455.8" x2="323.4" y2="473.4" stroke="#b8a8e0" stroke-width="2.08" stroke-opacity="0.252"/><line x1="388.6" y1="340.8" x2="412.6" y2="355.1" stroke="#b8b8b8" stroke-width="0.8" stroke-opacity="0.3"/><line x1="388.2" y1="341.6" x2="412.2" y2="355.9" stroke="#b8b8b8" stroke-width="0.8" stroke-opacity="0.3"/><line x1="403.9" y1="445.4" x2="375.4" y2="489.4" stroke="#d050c8" stroke-width="0.8" stroke-opacity="0.6"/><line x1="403.1" y1="445.0" x2="374.6" y2="489.0" stroke="#7a3aa8" stroke-width="0.8" stroke-opacity="0.6"/><line x1="364.4" y1="377.7" x2="371.4" y2="415.6" stroke="#b8b8b8" stroke-width="0.8" stroke-opacity="0.3"/><line x1="330.6" y1="353.7" x2="364.4" y2="377.7" stroke="#b8b8b8" stroke-width="0.75" stroke-opacity="0.425"/><line x1="330.6" y1="353.7" x2="396.2" y2="430.4" stroke="#b8b8b8" stroke-width="0.75" stroke-opacity="0.425"/><line x1="389.7" y1="341.0" x2="396.3" y2="379.0" stroke="#7a3aa8" stroke-width="0.75" stroke-opacity="0.85"/><line x1="388.8" y1="341.1" x2="395.4" y2="379.1" stroke="#222" stroke-width="1.0125000000000002" stroke-opacity="0.85"/><line x1="388.0" y1="341.3" x2="394.6" y2="379.3" stroke="#4640c0" stroke-width="1.0125000000000002" stroke-opacity="0.85"/><line x1="387.1" y1="341.4" x2="393.7" y2="379.4" stroke="#55b030" stroke-width="0.75" stroke-opacity="0.85"/><line x1="388.4" y1="341.2" x2="415.5" y2="388.3" stroke="#ece030" stroke-width="0.75" stroke-opacity="0.85"/><line x1="388.8" y1="341.1" x2="402.3" y2="409.5" stroke="#d050c8" stroke-width="0.75" stroke-opacity="0.85"/><line x1="388.0" y1="341.3" x2="401.5" y2="409.7" stroke="#7a3aa8" stroke-width="0.75" stroke-opacity="0.85"/><line x1="388.4" y1="341.2" x2="364.4" y2="377.7" stroke="#b8b8b8" stroke-width="0.75" stroke-opacity="0.425"/><line x1="388.4" y1="341.2" x2="449.0" y2="360.4" stroke="#4640c0" stroke-width="1.0125000000000002" stroke-opacity="0.85"/><line x1="388.8" y1="341.3" x2="371.8" y2="415.7" stroke="#ece030" stroke-width="0.75" stroke-opacity="0.85"/><line x1="388.0" y1="341.1" x2="371.0" y2="415.5" stroke="#d050c8" stroke-width="0.75" stroke-opacity="0.85"/><line x1="412.4" y1="355.5" x2="395.0" y2="379.2" stroke="#d050c8" stroke-width="0.75" stroke-opacity="0.85"/><line x1="412.4" y1="355.5" x2="449.0" y2="360.4" stroke="#b8b8b8" stroke-width="0.75" stroke-opacity="0.425"/><line x1="412.4" y1="355.5" x2="415.5" y2="388.3" stroke="#b8b8b8" stroke-width="0.75" stroke-opacity="0.425"/><line x1="412.8" y1="355.6" x2="402.3" y2="409.7" stroke="#d050c8" stroke-width="0.75" stroke-opacity="0.85"/><line x1="412.0" y1="355.4" x2="401.5" y2="409.5" stroke="#7a3aa8" stroke-width="0.75" stroke-opacity="0.85"/><line x1="449.0" y1="360.4" x2="415.5" y2="388.3" stroke="#d050c8" stroke-width="0.75" stroke-opacity="0.85"/><line x1="449.4" y1="360.5" x2="432.1" y2="413.7" stroke="#7a3aa8" stroke-width="0.75" stroke-opacity="0.85"/><line x1="448.6" y1="360.3" x2="431.3" y2="413.5" stroke="#d050c8" stroke-width="0.75" stroke-opacity="0.85"/><line x1="449.0" y1="360.4" x2="395.0" y2="379.2" stroke="#d050c8" stroke-width="0.75" stroke-opacity="0.85"/><line x1="460.6" y1="370.7" x2="432.1" y2="413.8" stroke="#7a3aa8" stroke-width="0.75" stroke-opacity="0.85"/><line x1="459.8" y1="370.3" x2="431.3" y2="413.4" stroke="#d050c8" stroke-width="0.75" stroke-opacity="0.85"/><line x1="460.2" y1="370.5" x2="451.0" y2="417.2" stroke="#d050c8" stroke-width="0.75" stroke-opacity="0.85"/><line x1="460.2" y1="370.5" x2="483.6" y2="420.5" stroke="#4640c0" stroke-width="1.0125000000000002" stroke-opacity="0.85"/><line x1="460.2" y1="370.5" x2="479.6" y2="389.2" stroke="#b8b8b8" stroke-width="0.75" stroke-opacity="0.425"/><line x1="479.6" y1="389.6" x2="415.5" y2="388.7" stroke="#b8a8e0" stroke-width="1.9500000000000002" stroke-opacity="0.357"/><line x1="479.6" y1="388.8" x2="415.5" y2="387.9" stroke="#d050c8" stroke-width="0.75" stroke-opacity="0.85"/><line x1="479.8" y1="389.6" x2="431.9" y2="414.0" stroke="#ece030" stroke-width="0.75" stroke-opacity="0.85"/><line x1="479.4" y1="388.8" x2="431.5" y2="413.2" stroke="#d050c8" stroke-width="0.75" stroke-opacity="0.85"/><line x1="479.6" y1="389.2" x2="483.6" y2="420.5" stroke="#ece030" stroke-width="0.75" stroke-opacity="0.85"/><line x1="479.6" y1="389.2" x2="449.0" y2="360.4" stroke="#b8b8b8" stroke-width="0.75" stroke-opacity="0.425"/><line x1="364.4" y1="376.8" x2="395.0" y2="378.3" stroke="#4640c0" stroke-width="1.0125000000000002" stroke-opacity="0.85"/><line x1="364.4" y1="377.7" x2="395.0" y2="379.2" stroke="#7a3aa8" stroke-width="0.75" stroke-opacity="0.85"/><line x1="364.4" y1="378.6" x2="395.0" y2="380.1" stroke="#d050c8" stroke-width="0.75" stroke-opacity="0.85"/><line x1="364.4" y1="377.7" x2="348.6" y2="400.9" stroke="#d050c8" stroke-width="0.75" stroke-opacity="0.85"/><line x1="364.4" y1="377.7" x2="415.5" y2="388.3" stroke="#b8b8b8" stroke-width="0.75" stroke-opacity="0.425"/><line x1="364.4" y1="377.7" x2="371.4" y2="415.6" stroke="#b8b8b8" stroke-width="0.75" stroke-opacity="0.425"/><line x1="364.7" y1="377.4" x2="402.2" y2="409.3" stroke="#7a3aa8" stroke-width="0.75" stroke-opacity="0.85"/><line x1="364.1" y1="378.0" x2="401.6" y2="409.9" stroke="#d050c8" stroke-width="0.75" stroke-opacity="0.85"/><line x1="348.8" y1="400.5" x2="371.6" y2="415.2" stroke="#e03020" stroke-width="0.75" stroke-opacity="0.85"/><line x1="348.4" y1="401.3" x2="371.2" y2="416.0" stroke="#7a3aa8" stroke-width="0.75" stroke-opacity="0.85"/><line x1="348.6" y1="400.9" x2="327.2" y2="428.8" stroke="#d050c8" stroke-width="0.75" stroke-opacity="0.85"/><line x1="348.8" y1="400.5" x2="396.4" y2="430.0" stroke="#7a3aa8" stroke-width="0.75" stroke-opacity="0.85"/><line x1="348.4" y1="401.3" x2="396.0" y2="430.8" stroke="#d050c8" stroke-width="0.75" stroke-opacity="0.85"/><line x1="348.6" y1="400.9" x2="395.0" y2="379.2" stroke="#ece030" stroke-width="0.75" stroke-opacity="0.85"/><line x1="328.1" y1="428.9" x2="324.5" y2="473.9" stroke="#222" stroke-width="1.0125000000000002" stroke-opacity="0.85"/><line x1="327.2" y1="428.8" x2="323.6" y2="473.8" stroke="#4640c0" stroke-width="1.0125000000000002" stroke-opacity="0.85"/><line x1="326.3" y1="428.7" x2="322.7" y2="473.7" stroke="#b8a8e0" stroke-width="1.9500000000000002" stroke-opacity="0.357"/><line x1="327.2" y1="428.8" x2="396.2" y2="430.4" stroke="#d050c8" stroke-width="0.75" stroke-opacity="0.85"/><line x1="327.2" y1="428.8" x2="363.8" y2="456.2" stroke="#b8b8b8" stroke-width="0.75" stroke-opacity="0.425"/><line x1="323.6" y1="473.4" x2="346.4" y2="473.1" stroke="#4640c0" stroke-width="1.0125000000000002" stroke-opacity="0.85"/><line x1="323.6" y1="474.2" x2="346.4" y2="473.9" stroke="#7a3aa8" stroke-width="0.75" stroke-opacity="0.85"/><line x1="323.6" y1="473.8" x2="363.8" y2="456.2" stroke="#7a3aa8" stroke-width="0.75" stroke-opacity="0.85"/><line x1="346.4" y1="473.5" x2="375.0" y2="489.2" stroke="#7a3aa8" stroke-width="0.75" stroke-opacity="0.85"/><line x1="346.4" y1="473.5" x2="363.8" y2="456.2" stroke="#7a3aa8" stroke-width="0.75" stroke-opacity="0.85"/><line x1="346.4" y1="473.5" x2="403.5" y2="445.2" stroke="#7a3aa8" stroke-width="0.75" stroke-opacity="0.85"/><line x1="374.2" y1="488.9" x2="395.4" y2="430.1" stroke="#7a3aa8" stroke-width="0.75" stroke-opacity="0.85"/><line x1="375.0" y1="489.2" x2="396.2" y2="430.4" stroke="#d050c8" stroke-width="0.75" stroke-opacity="0.85"/><line x1="375.8" y1="489.5" x2="397.0" y2="430.7" stroke="#4640c0" stroke-width="1.0125000000000002" stroke-opacity="0.85"/><line x1="375.0" y1="489.2" x2="401.9" y2="409.6" stroke="#d050c8" stroke-width="0.75" stroke-opacity="0.85"/><line x1="375.0" y1="489.2" x2="371.4" y2="415.6" stroke="#d050c8" stroke-width="0.75" stroke-opacity="0.85"/><line x1="375.0" y1="489.2" x2="425.6" y2="462.0" stroke="#b8b8b8" stroke-width="0.75" stroke-opacity="0.425"/><line x1="403.5" y1="445.2" x2="423.3" y2="523.3" stroke="#d050c8" stroke-width="0.75" stroke-opacity="0.85"/><line x1="425.6" y1="462.0" x2="423.3" y2="523.3" stroke="#b8b8b8" stroke-width="0.75" stroke-opacity="0.425"/><line x1="465.2" y1="446.0" x2="425.8" y2="462.4" stroke="#4640c0" stroke-width="1.0125000000000002" stroke-opacity="0.85"/><line x1="464.8" y1="445.2" x2="425.4" y2="461.6" stroke="#7a3aa8" stroke-width="0.75" stroke-opacity="0.85"/><line x1="465.4" y1="445.8" x2="451.4" y2="468.5" stroke="#222" stroke-width="1.0125000000000002" stroke-opacity="0.85"/><line x1="464.6" y1="445.4" x2="450.6" y2="468.1" stroke="#7a3aa8" stroke-width="0.75" stroke-opacity="0.85"/><line x1="465.6" y1="445.0" x2="493.9" y2="473.1" stroke="#222" stroke-width="1.0125000000000002" stroke-opacity="0.85"/><line x1="465.0" y1="445.6" x2="493.3" y2="473.7" stroke="#d050c8" stroke-width="0.75" stroke-opacity="0.85"/><line x1="464.4" y1="446.2" x2="492.7" y2="474.3" stroke="#b8a8e0" stroke-width="1.9500000000000002" stroke-opacity="0.357"/><line x1="465.0" y1="445.6" x2="431.7" y2="413.6" stroke="#b8b8b8" stroke-width="0.75" stroke-opacity="0.425"/><line x1="465.0" y1="445.6" x2="401.9" y2="409.6" stroke="#d050c8" stroke-width="0.75" stroke-opacity="0.85"/><line x1="465.0" y1="446.0" x2="403.5" y2="445.6" stroke="#7a3aa8" stroke-width="0.75" stroke-opacity="0.85"/><line x1="465.0" y1="445.2" x2="403.5" y2="444.8" stroke="#d050c8" stroke-width="0.75" stroke-opacity="0.85"/><line x1="451.1" y1="467.4" x2="493.4" y2="472.8" stroke="#222" stroke-width="1.0125000000000002" stroke-opacity="0.85"/><line x1="451.0" y1="468.3" x2="493.3" y2="473.7" stroke="#4640c0" stroke-width="1.0125000000000002" stroke-opacity="0.85"/><line x1="450.9" y1="469.2" x2="493.2" y2="474.6" stroke="#b8a8e0" stroke-width="1.9500000000000002" stroke-opacity="0.357"/><line x1="450.6" y1="468.4" x2="431.3" y2="413.7" stroke="#d050c8" stroke-width="0.75" stroke-opacity="0.85"/><line x1="451.4" y1="468.2" x2="432.1" y2="413.5" stroke="#7a3aa8" stroke-width="0.75" stroke-opacity="0.85"/><line x1="451.0" y1="468.3" x2="451.0" y2="417.2" stroke="#d050c8" stroke-width="0.75" stroke-opacity="0.85"/><line x1="451.0" y1="468.3" x2="425.6" y2="462.0" stroke="#b8b8b8" stroke-width="0.75" stroke-opacity="0.425"/><line x1="425.6" y1="462.0" x2="401.9" y2="409.6" stroke="#d050c8" stroke-width="0.75" stroke-opacity="0.85"/><line x1="425.6" y1="462.0" x2="396.2" y2="430.4" stroke="#7a3aa8" stroke-width="0.75" stroke-opacity="0.85"/><line x1="425.6" y1="462.0" x2="403.5" y2="445.2" stroke="#7a3aa8" stroke-width="0.75" stroke-opacity="0.85"/><line x1="425.6" y1="462.0" x2="431.7" y2="413.6" stroke="#b8b8b8" stroke-width="0.75" stroke-opacity="0.425"/><line x1="402.0" y1="408.7" x2="451.1" y2="416.3" stroke="#b8a8e0" stroke-width="1.9500000000000002" stroke-opacity="0.357"/><line x1="401.9" y1="409.6" x2="451.0" y2="417.2" stroke="#7a3aa8" stroke-width="0.75" stroke-opacity="0.85"/><line x1="401.8" y1="410.5" x2="450.9" y2="418.1" stroke="#d050c8" stroke-width="0.75" stroke-opacity="0.85"/><line x1="402.0" y1="408.7" x2="431.8" y2="412.7" stroke="#b8a8e0" stroke-width="1.9500000000000002" stroke-opacity="0.357"/><line x1="401.9" y1="409.6" x2="431.7" y2="413.6" stroke="#7a3aa8" stroke-width="0.75" stroke-opacity="0.85"/><line x1="401.8" y1="410.5" x2="431.6" y2="414.5" stroke="#d050c8" stroke-width="0.75" stroke-opacity="0.85"/><line x1="402.3" y1="409.7" x2="396.6" y2="430.5" stroke="#7a3aa8" stroke-width="0.75" stroke-opacity="0.85"/><line x1="401.5" y1="409.5" x2="395.8" y2="430.3" stroke="#4640c0" stroke-width="1.0125000000000002" stroke-opacity="0.85"/><line x1="402.0" y1="410.0" x2="371.5" y2="416.0" stroke="#d050c8" stroke-width="0.75" stroke-opacity="0.85"/><line x1="401.8" y1="409.2" x2="371.3" y2="415.2" stroke="#7a3aa8" stroke-width="0.75" stroke-opacity="0.85"/><line x1="401.5" y1="409.7" x2="394.6" y2="379.3" stroke="#d050c8" stroke-width="0.75" stroke-opacity="0.85"/><line x1="402.3" y1="409.5" x2="395.4" y2="379.1" stroke="#7a3aa8" stroke-width="0.75" stroke-opacity="0.85"/><line x1="401.5" y1="409.4" x2="415.1" y2="388.1" stroke="#d050c8" stroke-width="0.75" stroke-opacity="0.85"/><line x1="402.3" y1="409.8" x2="415.9" y2="388.5" stroke="#7a3aa8" stroke-width="0.75" stroke-opacity="0.85"/><line x1="401.9" y1="409.6" x2="483.6" y2="420.5" stroke="#d050c8" stroke-width="0.75" stroke-opacity="0.85"/><line x1="401.9" y1="409.6" x2="403.5" y2="445.2" stroke="#7a3aa8" stroke-width="0.75" stroke-opacity="0.85"/><line x1="396.1" y1="430.0" x2="450.9" y2="416.8" stroke="#7a3aa8" stroke-width="0.75" stroke-opacity="0.85"/><line x1="396.3" y1="430.8" x2="451.1" y2="417.6" stroke="#d050c8" stroke-width="0.75" stroke-opacity="0.85"/><line x1="396.5" y1="430.8" x2="364.1" y2="456.6" stroke="#7a3aa8" stroke-width="0.75" stroke-opacity="0.85"/><line x1="395.9" y1="430.0" x2="363.5" y2="455.8" stroke="#d050c8" stroke-width="0.75" stroke-opacity="0.85"/><line x1="396.2" y1="430.4" x2="403.5" y2="445.2" stroke="#7a3aa8" stroke-width="0.75" stroke-opacity="0.85"/><line x1="396.0" y1="430.0" x2="431.5" y2="413.2" stroke="#7a3aa8" stroke-width="0.75" stroke-opacity="0.85"/><line x1="396.4" y1="430.8" x2="431.9" y2="414.0" stroke="#d050c8" stroke-width="0.75" stroke-opacity="0.85"/><line x1="483.6" y1="420.9" x2="451.0" y2="417.6" stroke="#d050c8" stroke-width="0.75" stroke-opacity="0.85"/><line x1="483.6" y1="420.1" x2="451.0" y2="416.8" stroke="#b8a8e0" stroke-width="1.9500000000000002" stroke-opacity="0.357"/><line x1="483.6" y1="420.5" x2="493.3" y2="473.7" stroke="#b8b8b8" stroke-width="0.75" stroke-opacity="0.425"/><line x1="371.6" y1="415.2" x2="396.4" y2="430.0" stroke="#7a3aa8" stroke-width="0.75" stroke-opacity="0.85"/><line x1="371.2" y1="416.0" x2="396.0" y2="430.8" stroke="#d050c8" stroke-width="0.75" stroke-opacity="0.85"/><line x1="371.4" y1="415.6" x2="403.5" y2="445.2" stroke="#d050c8" stroke-width="0.75" stroke-opacity="0.85"/><line x1="395.2" y1="378.8" x2="415.7" y2="387.9" stroke="#7a3aa8" stroke-width="0.75" stroke-opacity="0.85"/><line x1="394.8" y1="379.6" x2="415.3" y2="388.7" stroke="#4640c0" stroke-width="1.0125000000000002" stroke-opacity="0.85"/><line x1="395.0" y1="379.2" x2="396.2" y2="430.4" stroke="#d050c8" stroke-width="0.75" stroke-opacity="0.85"/><line x1="395.0" y1="379.2" x2="371.4" y2="415.6" stroke="#7a3aa8" stroke-width="0.75" stroke-opacity="0.85"/><line x1="415.5" y1="388.3" x2="431.7" y2="413.6" stroke="#b8b8b8" stroke-width="0.75" stroke-opacity="0.425"/><line x1="415.5" y1="388.3" x2="403.5" y2="445.2" stroke="#7a3aa8" stroke-width="0.75" stroke-opacity="0.85"/><line x1="363.8" y1="456.2" x2="401.9" y2="409.6" stroke="#7a3aa8" stroke-width="0.75" stroke-opacity="0.85"/><line x1="363.8" y1="456.2" x2="431.7" y2="413.6" stroke="#d050c8" stroke-width="0.75" stroke-opacity="0.85"/><line x1="403.3" y1="444.8" x2="450.8" y2="416.8" stroke="#7a3aa8" stroke-width="0.75" stroke-opacity="0.85"/><line x1="403.7" y1="445.6" x2="451.2" y2="417.6" stroke="#d050c8" stroke-width="0.75" stroke-opacity="0.85"/><line x1="431.7" y1="413.6" x2="451.0" y2="417.2" stroke="#b8b8b8" stroke-width="0.75" stroke-opacity="0.425"/><line x1="327.2" y1="428.8" x2="401.9" y2="409.6" stroke="#d050c8" stroke-width="0.75" stroke-opacity="0.85"/><line x1="375.0" y1="489.2" x2="451.0" y2="468.3" stroke="#b8b8b8" stroke-width="0.75" stroke-opacity="0.425"/><line x1="371.4" y1="415.6" x2="451.0" y2="417.2" stroke="#7a3aa8" stroke-width="0.75" stroke-opacity="0.85"/></g><circle cx="20.5" cy="384.65" r="4.65" fill="#000" fill-opacity="0.12"/><circle cx="20.5" cy="384.3" r="4.65" fill="url(#g_lg)" stroke="#617755" stroke-opacity="0.85" stroke-width="0.45"/><ellipse cx="20.5" cy="381.60" rx="2.79" ry="1.40" fill="url(#hl)"/><circle cx="45" cy="397.85" r="4.65" fill="#000" fill-opacity="0.12"/><circle cx="45" cy="397.5" r="4.65" fill="url(#g_tan)" stroke="#796652" stroke-opacity="0.85" stroke-width="0.45"/><ellipse cx="45" cy="394.80" rx="2.79" ry="1.40" fill="url(#hl)"/><circle cx="76.3" cy="379.55" r="4.65" fill="#000" fill-opacity="0.12"/><circle cx="76.3" cy="379.2" r="4.65" fill="url(#g_lb)" stroke="#5b6c7f" stroke-opacity="0.85" stroke-width="0.45"/><ellipse cx="76.3" cy="376.50" rx="2.79" ry="1.40" fill="url(#hl)"/><circle cx="106.5" cy="384.95" r="4.65" fill="#000" fill-opacity="0.12"/><circle cx="106.5" cy="384.6" r="4.65" fill="url(#g_te)" stroke="#527373" stroke-opacity="0.85" stroke-width="0.45"/><ellipse cx="106.5" cy="381.90" rx="2.79" ry="1.40" fill="url(#hl)"/><circle cx="99.2" cy="396.95" r="4.65" fill="#000" fill-opacity="0.12"/><circle cx="99.2" cy="396.6" r="4.65" fill="url(#g_tan)" stroke="#796652" stroke-opacity="0.85" stroke-width="0.45"/><ellipse cx="99.2" cy="393.90" rx="2.79" ry="1.40" fill="url(#hl)"/><circle cx="145" cy="338.05" r="4.65" fill="#000" fill-opacity="0.12"/><circle cx="145" cy="337.7" r="4.65" fill="url(#g_ol)" stroke="#706e42" stroke-opacity="0.85" stroke-width="0.45"/><ellipse cx="145" cy="335.00" rx="2.79" ry="1.40" fill="url(#hl)"/><circle cx="140.8" cy="365.55" r="4.65" fill="#000" fill-opacity="0.12"/><circle cx="140.8" cy="365.2" r="4.65" fill="url(#g_tan)" stroke="#796652" stroke-opacity="0.85" stroke-width="0.45"/><ellipse cx="140.8" cy="362.50" rx="2.79" ry="1.40" fill="url(#hl)"/><circle cx="143.4" cy="385.65" r="4.65" fill="#000" fill-opacity="0.12"/><circle cx="143.4" cy="385.3" r="4.65" fill="url(#g_lg)" stroke="#617755" stroke-opacity="0.85" stroke-width="0.45"/><ellipse cx="143.4" cy="382.60" rx="2.79" ry="1.40" fill="url(#hl)"/><circle cx="129.2" cy="397.65" r="4.65" fill="#000" fill-opacity="0.12"/><circle cx="129.2" cy="397.3" r="4.65" fill="url(#g_cr)" stroke="#7e7e63" stroke-opacity="0.85" stroke-width="0.45"/><ellipse cx="129.2" cy="394.60" rx="2.79" ry="1.40" fill="url(#hl)"/><circle cx="122.8" cy="402.85" r="4.65" fill="#000" fill-opacity="0.12"/><circle cx="122.8" cy="402.5" r="4.65" fill="url(#g_pt)" stroke="#7b605b" stroke-opacity="0.85" stroke-width="0.45"/><ellipse cx="122.8" cy="399.80" rx="2.79" ry="1.40" fill="url(#hl)"/><circle cx="156.4" cy="394.35" r="4.65" fill="#000" fill-opacity="0.12"/><circle cx="156.4" cy="394" r="4.65" fill="url(#g_cr)" stroke="#7e7e63" stroke-opacity="0.85" stroke-width="0.45"/><ellipse cx="156.4" cy="391.30" rx="2.79" ry="1.40" fill="url(#hl)"/><circle cx="153.1" cy="408.95" r="4.65" fill="#000" fill-opacity="0.12"/><circle cx="153.1" cy="408.6" r="4.65" fill="url(#g_lg)" stroke="#617755" stroke-opacity="0.85" stroke-width="0.45"/><ellipse cx="153.1" cy="405.90" rx="2.79" ry="1.40" fill="url(#hl)"/><circle cx="88.6" cy="413.25" r="4.65" fill="#000" fill-opacity="0.12"/><circle cx="88.6" cy="412.9" r="4.65" fill="url(#g_tg)" stroke="#567567" stroke-opacity="0.85" stroke-width="0.45"/><ellipse cx="88.6" cy="410.20" rx="2.79" ry="1.40" fill="url(#hl)"/><circle cx="73.3" cy="421.15" r="4.65" fill="#000" fill-opacity="0.12"/><circle cx="73.3" cy="420.8" r="4.65" fill="url(#g_db)" stroke="#2f3465" stroke-opacity="0.85" stroke-width="0.45"/><ellipse cx="73.3" cy="418.10" rx="2.79" ry="1.40" fill="url(#hl)"/><circle cx="179.2" cy="349.75" r="4.65" fill="#000" fill-opacity="0.12"/><circle cx="179.2" cy="349.4" r="4.65" fill="url(#g_rd)" stroke="#7b3838" stroke-opacity="0.85" stroke-width="0.45"/><ellipse cx="179.2" cy="346.70" rx="2.79" ry="1.40" fill="url(#hl)"/><circle cx="215.2" cy="351.65" r="4.65" fill="#000" fill-opacity="0.12"/><circle cx="215.2" cy="351.3" r="4.65" fill="url(#g_bl)" stroke="#4e5679" stroke-opacity="0.85" stroke-width="0.45"/><ellipse cx="215.2" cy="348.60" rx="2.79" ry="1.40" fill="url(#hl)"/><circle cx="211.9" cy="375.15" r="4.65" fill="#000" fill-opacity="0.12"/><circle cx="211.9" cy="374.8" r="4.65" fill="url(#g_te)" stroke="#527373" stroke-opacity="0.85" stroke-width="0.45"/><ellipse cx="211.9" cy="372.10" rx="2.79" ry="1.40" fill="url(#hl)"/><circle cx="165.1" cy="382.85" r="4.65" fill="#000" fill-opacity="0.12"/><circle cx="165.1" cy="382.5" r="4.65" fill="url(#g_te)" stroke="#527373" stroke-opacity="0.85" stroke-width="0.45"/><ellipse cx="165.1" cy="379.80" rx="2.79" ry="1.40" fill="url(#hl)"/><circle cx="185" cy="388.05" r="4.65" fill="#000" fill-opacity="0.12"/><circle cx="185" cy="387.7" r="4.65" fill="url(#g_tg)" stroke="#567567" stroke-opacity="0.85" stroke-width="0.45"/><ellipse cx="185" cy="385.00" rx="2.79" ry="1.40" fill="url(#hl)"/><circle cx="212.2" cy="402.05" r="4.65" fill="#000" fill-opacity="0.12"/><circle cx="212.2" cy="401.7" r="4.65" fill="url(#g_te)" stroke="#527373" stroke-opacity="0.85" stroke-width="0.45"/><ellipse cx="212.2" cy="399.00" rx="2.79" ry="1.40" fill="url(#hl)"/><circle cx="183.8" cy="406.05" r="4.65" fill="#000" fill-opacity="0.12"/><circle cx="183.8" cy="405.7" r="4.65" fill="url(#g_g)" stroke="#4d6f40" stroke-opacity="0.85" stroke-width="0.45"/><ellipse cx="183.8" cy="403.00" rx="2.79" ry="1.40" fill="url(#hl)"/><circle cx="197.4" cy="417.35" r="4.65" fill="#000" fill-opacity="0.12"/><circle cx="197.4" cy="417" r="4.65" fill="url(#g_la)" stroke="#5f6480" stroke-opacity="0.85" stroke-width="0.45"/><ellipse cx="197.4" cy="414.30" rx="2.79" ry="1.40" fill="url(#hl)"/><circle cx="243.6" cy="415.75" r="4.65" fill="#000" fill-opacity="0.12"/><circle cx="243.6" cy="415.4" r="4.65" fill="url(#g_la)" stroke="#5f6480" stroke-opacity="0.85" stroke-width="0.45"/><ellipse cx="243.6" cy="412.70" rx="2.79" ry="1.40" fill="url(#hl)"/><circle cx="100.4" cy="428.85" r="4.65" fill="#000" fill-opacity="0.12"/><circle cx="100.4" cy="428.5" r="4.65" fill="url(#g_pu)" stroke="#5b5279" stroke-opacity="0.85" stroke-width="0.45"/><ellipse cx="100.4" cy="425.80" rx="2.79" ry="1.40" fill="url(#hl)"/><circle cx="78.8" cy="448.15" r="4.65" fill="#000" fill-opacity="0.12"/><circle cx="78.8" cy="447.8" r="4.65" fill="url(#g_tg)" stroke="#567567" stroke-opacity="0.85" stroke-width="0.45"/><ellipse cx="78.8" cy="445.10" rx="2.79" ry="1.40" fill="url(#hl)"/><circle cx="90.4" cy="455.85" r="4.65" fill="#000" fill-opacity="0.12"/><circle cx="90.4" cy="455.5" r="4.65" fill="url(#g_cr)" stroke="#7e7e63" stroke-opacity="0.85" stroke-width="0.45"/><ellipse cx="90.4" cy="452.80" rx="2.79" ry="1.40" fill="url(#hl)"/><circle cx="62.5" cy="474.35" r="4.65" fill="#000" fill-opacity="0.12"/><circle cx="62.5" cy="474" r="4.65" fill="url(#g_lb)" stroke="#5b6c7f" stroke-opacity="0.85" stroke-width="0.45"/><ellipse cx="62.5" cy="471.30" rx="2.79" ry="1.40" fill="url(#hl)"/><circle cx="81.7" cy="478.85" r="4.65" fill="#000" fill-opacity="0.12"/><circle cx="81.7" cy="478.5" r="4.65" fill="url(#g_lg)" stroke="#617755" stroke-opacity="0.85" stroke-width="0.45"/><ellipse cx="81.7" cy="475.80" rx="2.79" ry="1.40" fill="url(#hl)"/><circle cx="61.5" cy="493.05" r="4.65" fill="#000" fill-opacity="0.12"/><circle cx="61.5" cy="492.7" r="4.65" fill="url(#g_lg)" stroke="#617755" stroke-opacity="0.85" stroke-width="0.45"/><ellipse cx="61.5" cy="490.00" rx="2.79" ry="1.40" fill="url(#hl)"/><circle cx="122.9" cy="423.45" r="4.65" fill="#000" fill-opacity="0.12"/><circle cx="122.9" cy="423.1" r="4.65" fill="url(#g_pk)" stroke="#7f5f60" stroke-opacity="0.85" stroke-width="0.45"/><ellipse cx="122.9" cy="420.40" rx="2.79" ry="1.40" fill="url(#hl)"/><circle cx="131" cy="434.55" r="4.65" fill="#000" fill-opacity="0.12"/><circle cx="131" cy="434.2" r="4.65" fill="url(#g_g)" stroke="#4d6f40" stroke-opacity="0.85" stroke-width="0.45"/><ellipse cx="131" cy="431.50" rx="2.79" ry="1.40" fill="url(#hl)"/><circle cx="147.7" cy="436.85" r="4.65" fill="#000" fill-opacity="0.12"/><circle cx="147.7" cy="436.5" r="4.65" fill="url(#g_te)" stroke="#527373" stroke-opacity="0.85" stroke-width="0.45"/><ellipse cx="147.7" cy="433.80" rx="2.79" ry="1.40" fill="url(#hl)"/><circle cx="155.4" cy="440.35" r="4.65" fill="#000" fill-opacity="0.12"/><circle cx="155.4" cy="440" r="4.65" fill="url(#g_pk)" stroke="#7f5f60" stroke-opacity="0.85" stroke-width="0.45"/><ellipse cx="155.4" cy="437.30" rx="2.79" ry="1.40" fill="url(#hl)"/><circle cx="167.6" cy="429.95" r="4.65" fill="#000" fill-opacity="0.12"/><circle cx="167.6" cy="429.6" r="4.65" fill="url(#g_lb)" stroke="#5b6c7f" stroke-opacity="0.85" stroke-width="0.45"/><ellipse cx="167.6" cy="426.90" rx="2.79" ry="1.40" fill="url(#hl)"/><circle cx="132.7" cy="446.95" r="4.65" fill="#000" fill-opacity="0.12"/><circle cx="132.7" cy="446.6" r="4.65" fill="url(#g_sal)" stroke="#7d5f53" stroke-opacity="0.85" stroke-width="0.45"/><ellipse cx="132.7" cy="443.90" rx="2.79" ry="1.40" fill="url(#hl)"/><circle cx="101" cy="451.85" r="4.65" fill="#000" fill-opacity="0.12"/><circle cx="101" cy="451.5" r="4.65" fill="url(#g_cr)" stroke="#7e7e63" stroke-opacity="0.85" stroke-width="0.45"/><ellipse cx="101" cy="448.80" rx="2.79" ry="1.40" fill="url(#hl)"/><circle cx="185.8" cy="445.45" r="4.65" fill="#000" fill-opacity="0.12"/><circle cx="185.8" cy="445.1" r="4.65" fill="url(#g_lg)" stroke="#617755" stroke-opacity="0.85" stroke-width="0.45"/><ellipse cx="185.8" cy="442.40" rx="2.79" ry="1.40" fill="url(#hl)"/><circle cx="166.5" cy="452.85" r="4.65" fill="#000" fill-opacity="0.12"/><circle cx="166.5" cy="452.5" r="4.65" fill="url(#g_lg)" stroke="#617755" stroke-opacity="0.85" stroke-width="0.45"/><ellipse cx="166.5" cy="449.80" rx="2.79" ry="1.40" fill="url(#hl)"/><circle cx="122.3" cy="464.15" r="4.65" fill="#000" fill-opacity="0.12"/><circle cx="122.3" cy="463.8" r="4.65" fill="url(#g_lg)" stroke="#617755" stroke-opacity="0.85" stroke-width="0.45"/><ellipse cx="122.3" cy="461.10" rx="2.79" ry="1.40" fill="url(#hl)"/><circle cx="143.5" cy="461.85" r="4.65" fill="#000" fill-opacity="0.12"/><circle cx="143.5" cy="461.5" r="4.65" fill="url(#g_lb)" stroke="#5b6c7f" stroke-opacity="0.85" stroke-width="0.45"/><ellipse cx="143.5" cy="458.80" rx="2.79" ry="1.40" fill="url(#hl)"/><circle cx="155.4" cy="476.45" r="4.65" fill="#000" fill-opacity="0.12"/><circle cx="155.4" cy="476.1" r="4.65" fill="url(#g_lg)" stroke="#617755" stroke-opacity="0.85" stroke-width="0.45"/><ellipse cx="155.4" cy="473.40" rx="2.79" ry="1.40" fill="url(#hl)"/><circle cx="178.4" cy="476.15" r="4.65" fill="#000" fill-opacity="0.12"/><circle cx="178.4" cy="475.8" r="4.65" fill="url(#g_lg)" stroke="#617755" stroke-opacity="0.85" stroke-width="0.45"/><ellipse cx="178.4" cy="473.10" rx="2.79" ry="1.40" fill="url(#hl)"/><circle cx="222.4" cy="426.35" r="4.65" fill="#000" fill-opacity="0.12"/><circle cx="222.4" cy="426" r="4.65" fill="url(#g_g)" stroke="#4d6f40" stroke-opacity="0.85" stroke-width="0.45"/><ellipse cx="222.4" cy="423.30" rx="2.79" ry="1.40" fill="url(#hl)"/><circle cx="206.7" cy="437.95" r="4.65" fill="#000" fill-opacity="0.12"/><circle cx="206.7" cy="437.6" r="4.65" fill="url(#g_cr)" stroke="#7e7e63" stroke-opacity="0.85" stroke-width="0.45"/><ellipse cx="206.7" cy="434.90" rx="2.79" ry="1.40" fill="url(#hl)"/><circle cx="211.5" cy="453.55" r="4.65" fill="#000" fill-opacity="0.12"/><circle cx="211.5" cy="453.2" r="4.65" fill="url(#g_la)" stroke="#5f6480" stroke-opacity="0.85" stroke-width="0.45"/><ellipse cx="211.5" cy="450.50" rx="2.79" ry="1.40" fill="url(#hl)"/><circle cx="253.4" cy="450.95" r="4.65" fill="#000" fill-opacity="0.12"/><circle cx="253.4" cy="450.6" r="4.65" fill="url(#g_sal)" stroke="#7d5f53" stroke-opacity="0.85" stroke-width="0.45"/><ellipse cx="253.4" cy="447.90" rx="2.79" ry="1.40" fill="url(#hl)"/><circle cx="199.8" cy="463.85" r="4.65" fill="#000" fill-opacity="0.12"/><circle cx="199.8" cy="463.5" r="4.65" fill="url(#g_g)" stroke="#4d6f40" stroke-opacity="0.85" stroke-width="0.45"/><ellipse cx="199.8" cy="460.80" rx="2.79" ry="1.40" fill="url(#hl)"/><circle cx="112.7" cy="504.05" r="4.65" fill="#000" fill-opacity="0.12"/><circle cx="112.7" cy="503.7" r="4.65" fill="url(#g_pk)" stroke="#7f5f60" stroke-opacity="0.85" stroke-width="0.45"/><ellipse cx="112.7" cy="501.00" rx="2.79" ry="1.40" fill="url(#hl)"/><circle cx="133.8" cy="497.85" r="4.65" fill="#000" fill-opacity="0.12"/><circle cx="133.8" cy="497.5" r="4.65" fill="url(#g_lg)" stroke="#617755" stroke-opacity="0.85" stroke-width="0.45"/><ellipse cx="133.8" cy="494.80" rx="2.79" ry="1.40" fill="url(#hl)"/><circle cx="145.8" cy="494.35" r="4.65" fill="#000" fill-opacity="0.12"/><circle cx="145.8" cy="494" r="4.65" fill="url(#g_la)" stroke="#5f6480" stroke-opacity="0.85" stroke-width="0.45"/><ellipse cx="145.8" cy="491.30" rx="2.79" ry="1.40" fill="url(#hl)"/><circle cx="161.5" cy="506.55" r="4.65" fill="#000" fill-opacity="0.12"/><circle cx="161.5" cy="506.2" r="4.65" fill="url(#g_tan)" stroke="#796652" stroke-opacity="0.85" stroke-width="0.45"/><ellipse cx="161.5" cy="503.50" rx="2.79" ry="1.40" fill="url(#hl)"/><circle cx="179.4" cy="501.45" r="4.65" fill="#000" fill-opacity="0.12"/><circle cx="179.4" cy="501.1" r="4.65" fill="url(#g_tg)" stroke="#567567" stroke-opacity="0.85" stroke-width="0.45"/><ellipse cx="179.4" cy="498.40" rx="2.79" ry="1.40" fill="url(#hl)"/><circle cx="189.4" cy="508.25" r="4.65" fill="#000" fill-opacity="0.12"/><circle cx="189.4" cy="507.9" r="4.65" fill="url(#g_lg)" stroke="#617755" stroke-opacity="0.85" stroke-width="0.45"/><ellipse cx="189.4" cy="505.20" rx="2.79" ry="1.40" fill="url(#hl)"/><circle cx="157.3" cy="523.85" r="4.65" fill="#000" fill-opacity="0.12"/><circle cx="157.3" cy="523.5" r="4.65" fill="url(#g_tg)" stroke="#567567" stroke-opacity="0.85" stroke-width="0.45"/><ellipse cx="157.3" cy="520.80" rx="2.79" ry="1.40" fill="url(#hl)"/><circle cx="134.2" cy="528.05" r="4.65" fill="#000" fill-opacity="0.12"/><circle cx="134.2" cy="527.7" r="4.65" fill="url(#g_ol)" stroke="#706e42" stroke-opacity="0.85" stroke-width="0.45"/><ellipse cx="134.2" cy="525.00" rx="2.79" ry="1.40" fill="url(#hl)"/><circle cx="195.4" cy="491.15" r="4.65" fill="#000" fill-opacity="0.12"/><circle cx="195.4" cy="490.8" r="4.65" fill="url(#g_lb)" stroke="#5b6c7f" stroke-opacity="0.85" stroke-width="0.45"/><ellipse cx="195.4" cy="488.10" rx="2.79" ry="1.40" fill="url(#hl)"/><circle cx="221.4" cy="496.15" r="4.65" fill="#000" fill-opacity="0.12"/><circle cx="221.4" cy="495.8" r="4.65" fill="url(#g_lg)" stroke="#617755" stroke-opacity="0.85" stroke-width="0.45"/><ellipse cx="221.4" cy="493.10" rx="2.79" ry="1.40" fill="url(#hl)"/><circle cx="255.3" cy="497.55" r="4.65" fill="#000" fill-opacity="0.12"/><circle cx="255.3" cy="497.2" r="4.65" fill="url(#g_dt)" stroke="#326161" stroke-opacity="0.85" stroke-width="0.45"/><ellipse cx="255.3" cy="494.50" rx="2.79" ry="1.40" fill="url(#hl)"/><text transform="translate(25.3,379.9) scale(0.280)" font-size="10" fill="#1a1a1a" stroke="#1a1a1a" stroke-width="0">ABL1</text><text transform="translate(49.8,393.1) scale(0.280)" font-size="10" fill="#1a1a1a" stroke="#1a1a1a" stroke-width="0">ASNS</text><text transform="translate(81.1,374.8) scale(0.280)" font-size="10" fill="#1a1a1a" stroke="#1a1a1a" stroke-width="0">BAX</text><text transform="translate(111.3,380.2) scale(0.280)" font-size="10" fill="#1a1a1a" stroke="#1a1a1a" stroke-width="0">NFE2L2</text><text transform="translate(104.0,392.2) scale(0.280)" font-size="10" fill="#1a1a1a" stroke="#1a1a1a" stroke-width="0">SRC</text><text transform="translate(149.8,333.3) scale(0.280)" font-size="10" fill="#1a1a1a" stroke="#1a1a1a" stroke-width="0">CLDN5</text><text transform="translate(145.6,360.8) scale(0.280)" font-size="10" fill="#1a1a1a" stroke="#1a1a1a" stroke-width="0">ITGA2</text><text transform="translate(148.2,380.9) scale(0.280)" font-size="10" fill="#1a1a1a" stroke="#1a1a1a" stroke-width="0">JAK2</text><text transform="translate(134.0,392.9) scale(0.280)" font-size="10" fill="#1a1a1a" stroke="#1a1a1a" stroke-width="0">PRKCB</text><text transform="translate(127.6,398.1) scale(0.280)" font-size="10" fill="#1a1a1a" stroke="#1a1a1a" stroke-width="0">FOXM1</text><text transform="translate(161.2,389.6) scale(0.280)" font-size="10" fill="#1a1a1a" stroke="#1a1a1a" stroke-width="0">AR</text><text transform="translate(157.9,404.2) scale(0.280)" font-size="10" fill="#1a1a1a" stroke="#1a1a1a" stroke-width="0">NRAS</text><text transform="translate(93.4,408.5) scale(0.280)" font-size="10" fill="#1a1a1a" stroke="#1a1a1a" stroke-width="0">SQSTM1</text><text transform="translate(78.1,416.4) scale(0.280)" font-size="10" fill="#1a1a1a" stroke="#1a1a1a" stroke-width="0">RHEB</text><text transform="translate(184.0,345.0) scale(0.280)" font-size="10" fill="#1a1a1a" stroke="#1a1a1a" stroke-width="0">CDH1</text><text transform="translate(220.0,346.9) scale(0.280)" font-size="10" fill="#1a1a1a" stroke="#1a1a1a" stroke-width="0">TNK1</text><text transform="translate(216.7,370.4) scale(0.280)" font-size="10" fill="#1a1a1a" stroke="#1a1a1a" stroke-width="0">PPARA</text><text transform="translate(169.9,378.1) scale(0.280)" font-size="10" fill="#1a1a1a" stroke="#1a1a1a" stroke-width="0">ITGB1</text><text transform="translate(189.8,383.3) scale(0.280)" font-size="10" fill="#1a1a1a" stroke="#1a1a1a" stroke-width="0">NTF3</text><text transform="translate(217.0,397.3) scale(0.280)" font-size="10" fill="#1a1a1a" stroke="#1a1a1a" stroke-width="0">MYH11</text><text transform="translate(188.6,401.3) scale(0.280)" font-size="10" fill="#1a1a1a" stroke="#1a1a1a" stroke-width="0">CD274</text><text transform="translate(202.2,412.6) scale(0.280)" font-size="10" fill="#1a1a1a" stroke="#1a1a1a" stroke-width="0">MUC1</text><text transform="translate(248.4,411.0) scale(0.280)" font-size="10" fill="#1a1a1a" stroke="#1a1a1a" stroke-width="0">SMAD5</text><text transform="translate(105.2,424.1) scale(0.280)" font-size="10" fill="#1a1a1a" stroke="#1a1a1a" stroke-width="0">MKT3</text><text transform="translate(83.6,443.4) scale(0.280)" font-size="10" fill="#1a1a1a" stroke="#1a1a1a" stroke-width="0">HIF1A</text><text transform="translate(95.2,451.1) scale(0.280)" font-size="10" fill="#1a1a1a" stroke="#1a1a1a" stroke-width="0">EGFR</text><text transform="translate(67.3,469.6) scale(0.280)" font-size="10" fill="#1a1a1a" stroke="#1a1a1a" stroke-width="0">ERBB2</text><text transform="translate(86.5,474.1) scale(0.280)" font-size="10" fill="#1a1a1a" stroke="#1a1a1a" stroke-width="0">PLK1</text><text transform="translate(66.3,488.3) scale(0.280)" font-size="10" fill="#1a1a1a" stroke="#1a1a1a" stroke-width="0">TP53</text><text transform="translate(127.7,418.7) scale(0.280)" font-size="10" fill="#1a1a1a" stroke="#1a1a1a" stroke-width="0">AKT3</text><text transform="translate(135.8,429.8) scale(0.280)" font-size="10" fill="#1a1a1a" stroke="#1a1a1a" stroke-width="0">LCK</text><text transform="translate(152.5,432.1) scale(0.280)" font-size="10" fill="#1a1a1a" stroke="#1a1a1a" stroke-width="0">MTOR</text><text transform="translate(160.2,435.6) scale(0.280)" font-size="10" fill="#1a1a1a" stroke="#1a1a1a" stroke-width="0">RPTOR</text><text transform="translate(172.4,425.2) scale(0.280)" font-size="10" fill="#1a1a1a" stroke="#1a1a1a" stroke-width="0">CDK1</text><text transform="translate(137.5,442.2) scale(0.280)" font-size="10" fill="#1a1a1a" stroke="#1a1a1a" stroke-width="0">E2F1</text><text transform="translate(105.8,447.1) scale(0.280)" font-size="10" fill="#1a1a1a" stroke="#1a1a1a" stroke-width="0">CCND1</text><text transform="translate(190.6,440.7) scale(0.280)" font-size="10" fill="#1a1a1a" stroke="#1a1a1a" stroke-width="0">RB1</text><text transform="translate(171.3,448.1) scale(0.280)" font-size="10" fill="#1a1a1a" stroke="#1a1a1a" stroke-width="0">CCNE1</text><text transform="translate(127.1,459.4) scale(0.280)" font-size="10" fill="#1a1a1a" stroke="#1a1a1a" stroke-width="0">CASP8</text><text transform="translate(148.3,457.1) scale(0.280)" font-size="10" fill="#1a1a1a" stroke="#1a1a1a" stroke-width="0">MSH2</text><text transform="translate(160.2,471.7) scale(0.280)" font-size="10" fill="#1a1a1a" stroke="#1a1a1a" stroke-width="0">PCNA</text><text transform="translate(183.2,471.4) scale(0.280)" font-size="10" fill="#1a1a1a" stroke="#1a1a1a" stroke-width="0">JUN</text><text transform="translate(227.2,421.6) scale(0.280)" font-size="10" fill="#1a1a1a" stroke="#1a1a1a" stroke-width="0">JAG1</text><text transform="translate(211.5,433.2) scale(0.280)" font-size="10" fill="#1a1a1a" stroke="#1a1a1a" stroke-width="0">SOX2</text><text transform="translate(216.3,448.8) scale(0.280)" font-size="10" fill="#1a1a1a" stroke="#1a1a1a" stroke-width="0">TNF</text><text transform="translate(258.2,446.2) scale(0.280)" font-size="10" fill="#1a1a1a" stroke="#1a1a1a" stroke-width="0">WEE1</text><text transform="translate(204.6,459.1) scale(0.280)" font-size="10" fill="#1a1a1a" stroke="#1a1a1a" stroke-width="0">CDH2</text><text transform="translate(117.5,499.3) scale(0.280)" font-size="10" fill="#1a1a1a" stroke="#1a1a1a" stroke-width="0">BCL2L1</text><text transform="translate(138.6,493.1) scale(0.280)" font-size="10" fill="#1a1a1a" stroke="#1a1a1a" stroke-width="0">GAB2</text><text transform="translate(150.6,489.6) scale(0.280)" font-size="10" fill="#1a1a1a" stroke="#1a1a1a" stroke-width="0">BAK1</text><text transform="translate(166.3,501.8) scale(0.280)" font-size="10" fill="#1a1a1a" stroke="#1a1a1a" stroke-width="0">PLK2</text><text transform="translate(184.2,496.7) scale(0.280)" font-size="10" fill="#1a1a1a" stroke="#1a1a1a" stroke-width="0">ETS1</text><text transform="translate(194.2,503.5) scale(0.280)" font-size="10" fill="#1a1a1a" stroke="#1a1a1a" stroke-width="0">BRCA2</text><text transform="translate(162.1,519.1) scale(0.280)" font-size="10" fill="#1a1a1a" stroke="#1a1a1a" stroke-width="0">MYC</text><text transform="translate(139.0,523.3) scale(0.280)" font-size="10" fill="#1a1a1a" stroke="#1a1a1a" stroke-width="0">PIK3CA</text><text transform="translate(200.2,486.4) scale(0.280)" font-size="10" fill="#1a1a1a" stroke="#1a1a1a" stroke-width="0">CHEK2</text><text transform="translate(226.2,491.4) scale(0.280)" font-size="10" fill="#1a1a1a" stroke="#1a1a1a" stroke-width="0">VEGFA</text><text transform="translate(260.1,492.8) scale(0.280)" font-size="10" fill="#1a1a1a" stroke="#1a1a1a" stroke-width="0">PTEN</text><circle cx="330.6" cy="354.05" r="6.0" fill="#000" fill-opacity="0.12"/><circle cx="330.6" cy="353.7" r="6.0" fill="url(#g_lg)" stroke="#617755" stroke-opacity="0.85" stroke-width="0.45"/><ellipse cx="330.6" cy="350.22" rx="3.60" ry="1.80" fill="url(#hl)"/><circle cx="388.4" cy="341.55" r="6.0" fill="#000" fill-opacity="0.12"/><circle cx="388.4" cy="341.2" r="6.0" fill="url(#g_tan)" stroke="#796652" stroke-opacity="0.85" stroke-width="0.45"/><ellipse cx="388.4" cy="337.72" rx="3.60" ry="1.80" fill="url(#hl)"/><circle cx="412.4" cy="355.85" r="6.0" fill="#000" fill-opacity="0.12"/><circle cx="412.4" cy="355.5" r="6.0" fill="url(#g_pk)" stroke="#7f5f60" stroke-opacity="0.85" stroke-width="0.45"/><ellipse cx="412.4" cy="352.02" rx="3.60" ry="1.80" fill="url(#hl)"/><circle cx="449" cy="360.75" r="6.0" fill="#000" fill-opacity="0.12"/><circle cx="449" cy="360.4" r="6.0" fill="url(#g_lb)" stroke="#5b6c7f" stroke-opacity="0.85" stroke-width="0.45"/><ellipse cx="449" cy="356.92" rx="3.60" ry="1.80" fill="url(#hl)"/><circle cx="460.2" cy="370.85" r="6.0" fill="#000" fill-opacity="0.12"/><circle cx="460.2" cy="370.5" r="6.0" fill="url(#g_db)" stroke="#2f3465" stroke-opacity="0.85" stroke-width="0.45"/><ellipse cx="460.2" cy="367.02" rx="3.60" ry="1.80" fill="url(#hl)"/><circle cx="364.4" cy="378.05" r="6.0" fill="#000" fill-opacity="0.12"/><circle cx="364.4" cy="377.7" r="6.0" fill="url(#g_g)" stroke="#4d6f40" stroke-opacity="0.85" stroke-width="0.45"/><ellipse cx="364.4" cy="374.22" rx="3.60" ry="1.80" fill="url(#hl)"/><circle cx="395" cy="379.55" r="6.0" fill="#000" fill-opacity="0.12"/><circle cx="395" cy="379.2" r="6.0" fill="url(#g_pu)" stroke="#5b5279" stroke-opacity="0.85" stroke-width="0.45"/><ellipse cx="395" cy="375.72" rx="3.60" ry="1.80" fill="url(#hl)"/><circle cx="415.5" cy="388.65" r="6.0" fill="#000" fill-opacity="0.12"/><circle cx="415.5" cy="388.3" r="6.0" fill="url(#g_cr)" stroke="#7e7e63" stroke-opacity="0.85" stroke-width="0.45"/><ellipse cx="415.5" cy="384.82" rx="3.60" ry="1.80" fill="url(#hl)"/><circle cx="479.6" cy="389.55" r="6.0" fill="#000" fill-opacity="0.12"/><circle cx="479.6" cy="389.2" r="6.0" fill="url(#g_sal)" stroke="#7d5f53" stroke-opacity="0.85" stroke-width="0.45"/><ellipse cx="479.6" cy="385.72" rx="3.60" ry="1.80" fill="url(#hl)"/><circle cx="348.6" cy="401.25" r="6.0" fill="#000" fill-opacity="0.12"/><circle cx="348.6" cy="400.9" r="6.0" fill="url(#g_lg)" stroke="#617755" stroke-opacity="0.85" stroke-width="0.45"/><ellipse cx="348.6" cy="397.42" rx="3.60" ry="1.80" fill="url(#hl)"/><circle cx="371.4" cy="415.95" r="6.0" fill="#000" fill-opacity="0.12"/><circle cx="371.4" cy="415.6" r="6.0" fill="url(#g_g)" stroke="#4d6f40" stroke-opacity="0.85" stroke-width="0.45"/><ellipse cx="371.4" cy="412.12" rx="3.60" ry="1.80" fill="url(#hl)"/><circle cx="401.9" cy="409.95" r="6.0" fill="#000" fill-opacity="0.12"/><circle cx="401.9" cy="409.6" r="6.0" fill="url(#g_rd)" stroke="#7b3838" stroke-opacity="0.85" stroke-width="0.45"/><ellipse cx="401.9" cy="406.12" rx="3.60" ry="1.80" fill="url(#hl)"/><circle cx="431.7" cy="413.95" r="6.0" fill="#000" fill-opacity="0.12"/><circle cx="431.7" cy="413.6" r="6.0" fill="url(#g_ol)" stroke="#706e42" stroke-opacity="0.85" stroke-width="0.45"/><ellipse cx="431.7" cy="410.12" rx="3.60" ry="1.80" fill="url(#hl)"/><circle cx="451" cy="417.55" r="6.0" fill="#000" fill-opacity="0.12"/><circle cx="451" cy="417.2" r="6.0" fill="url(#g_tg)" stroke="#567567" stroke-opacity="0.85" stroke-width="0.45"/><ellipse cx="451" cy="413.72" rx="3.60" ry="1.80" fill="url(#hl)"/><circle cx="483.6" cy="420.85" r="6.0" fill="#000" fill-opacity="0.12"/><circle cx="483.6" cy="420.5" r="6.0" fill="url(#g_cr)" stroke="#7e7e63" stroke-opacity="0.85" stroke-width="0.45"/><ellipse cx="483.6" cy="417.02" rx="3.60" ry="1.80" fill="url(#hl)"/><circle cx="327.2" cy="429.15" r="6.0" fill="#000" fill-opacity="0.12"/><circle cx="327.2" cy="428.8" r="6.0" fill="url(#g_lg)" stroke="#617755" stroke-opacity="0.85" stroke-width="0.45"/><ellipse cx="327.2" cy="425.32" rx="3.60" ry="1.80" fill="url(#hl)"/><circle cx="396.2" cy="430.75" r="6.0" fill="#000" fill-opacity="0.12"/><circle cx="396.2" cy="430.4" r="6.0" fill="url(#g_te)" stroke="#527373" stroke-opacity="0.85" stroke-width="0.45"/><ellipse cx="396.2" cy="426.92" rx="3.60" ry="1.80" fill="url(#hl)"/><circle cx="403.5" cy="445.55" r="6.0" fill="#000" fill-opacity="0.12"/><circle cx="403.5" cy="445.2" r="6.0" fill="url(#g_dg)" stroke="#32602e" stroke-opacity="0.85" stroke-width="0.45"/><ellipse cx="403.5" cy="441.72" rx="3.60" ry="1.80" fill="url(#hl)"/><circle cx="465" cy="445.95" r="6.0" fill="#000" fill-opacity="0.12"/><circle cx="465" cy="445.6" r="6.0" fill="url(#g_tg)" stroke="#567567" stroke-opacity="0.85" stroke-width="0.45"/><ellipse cx="465" cy="442.12" rx="3.60" ry="1.80" fill="url(#hl)"/><circle cx="363.8" cy="456.55" r="6.0" fill="#000" fill-opacity="0.12"/><circle cx="363.8" cy="456.2" r="6.0" fill="url(#g_dt)" stroke="#326161" stroke-opacity="0.85" stroke-width="0.45"/><ellipse cx="363.8" cy="452.72" rx="3.60" ry="1.80" fill="url(#hl)"/><circle cx="425.6" cy="462.35" r="6.0" fill="#000" fill-opacity="0.12"/><circle cx="425.6" cy="462" r="6.0" fill="url(#g_sal)" stroke="#7d5f53" stroke-opacity="0.85" stroke-width="0.45"/><ellipse cx="425.6" cy="458.52" rx="3.60" ry="1.80" fill="url(#hl)"/><circle cx="451" cy="468.65" r="6.0" fill="#000" fill-opacity="0.12"/><circle cx="451" cy="468.3" r="6.0" fill="url(#g_cr)" stroke="#7e7e63" stroke-opacity="0.85" stroke-width="0.45"/><ellipse cx="451" cy="464.82" rx="3.60" ry="1.80" fill="url(#hl)"/><circle cx="493.3" cy="474.05" r="6.0" fill="#000" fill-opacity="0.12"/><circle cx="493.3" cy="473.7" r="6.0" fill="url(#g_tg)" stroke="#567567" stroke-opacity="0.85" stroke-width="0.45"/><ellipse cx="493.3" cy="470.22" rx="3.60" ry="1.80" fill="url(#hl)"/><circle cx="323.6" cy="474.15" r="6.0" fill="#000" fill-opacity="0.12"/><circle cx="323.6" cy="473.8" r="6.0" fill="url(#g_cr)" stroke="#7e7e63" stroke-opacity="0.85" stroke-width="0.45"/><ellipse cx="323.6" cy="470.32" rx="3.60" ry="1.80" fill="url(#hl)"/><circle cx="346.4" cy="473.85" r="6.0" fill="#000" fill-opacity="0.12"/><circle cx="346.4" cy="473.5" r="6.0" fill="url(#g_tg)" stroke="#567567" stroke-opacity="0.85" stroke-width="0.45"/><ellipse cx="346.4" cy="470.02" rx="3.60" ry="1.80" fill="url(#hl)"/><circle cx="375" cy="489.55" r="6.0" fill="#000" fill-opacity="0.12"/><circle cx="375" cy="489.2" r="6.0" fill="url(#g_tan)" stroke="#796652" stroke-opacity="0.85" stroke-width="0.45"/><ellipse cx="375" cy="485.72" rx="3.60" ry="1.80" fill="url(#hl)"/><circle cx="423.3" cy="523.65" r="6.0" fill="#000" fill-opacity="0.12"/><circle cx="423.3" cy="523.3" r="6.0" fill="url(#g_g)" stroke="#4d6f40" stroke-opacity="0.85" stroke-width="0.45"/><ellipse cx="423.3" cy="519.82" rx="3.60" ry="1.80" fill="url(#hl)"/><text transform="translate(336.4,348.7) scale(0.370)" font-size="10" fill="#1a1a1a" stroke="#1a1a1a" stroke-width="0.35">PDK1</text><text transform="translate(394.2,336.2) scale(0.370)" font-size="10" fill="#1a1a1a" stroke="#1a1a1a" stroke-width="0.35">STAT5A</text><text transform="translate(418.2,350.5) scale(0.370)" font-size="10" fill="#1a1a1a" stroke="#1a1a1a" stroke-width="0.35">PRKCB</text><text transform="translate(454.8,355.4) scale(0.370)" font-size="10" fill="#1a1a1a" stroke="#1a1a1a" stroke-width="0.35">SMAD2</text><text transform="translate(466.0,365.5) scale(0.370)" font-size="10" fill="#1a1a1a" stroke="#1a1a1a" stroke-width="0.35">EEF2K</text><text transform="translate(370.2,372.7) scale(0.370)" font-size="10" fill="#1a1a1a" stroke="#1a1a1a" stroke-width="0.35">RELA</text><text transform="translate(400.8,374.2) scale(0.370)" font-size="10" fill="#1a1a1a" stroke="#1a1a1a" stroke-width="0.35">STAT3</text><text transform="translate(421.3,383.3) scale(0.370)" font-size="10" fill="#1a1a1a" stroke="#1a1a1a" stroke-width="0.35">JUN</text><text transform="translate(485.4,384.2) scale(0.370)" font-size="10" fill="#1a1a1a" stroke="#1a1a1a" stroke-width="0.35">PDCD4</text><text transform="translate(354.4,395.9) scale(0.370)" font-size="10" fill="#1a1a1a" stroke="#1a1a1a" stroke-width="0.35">CDKN1B</text><text transform="translate(377.2,410.6) scale(0.370)" font-size="10" fill="#1a1a1a" stroke="#1a1a1a" stroke-width="0.35">CREB1</text><text transform="translate(407.7,404.6) scale(0.370)" font-size="10" fill="#1a1a1a" stroke="#1a1a1a" stroke-width="0.35">MAPK1</text><text transform="translate(437.5,408.6) scale(0.370)" font-size="10" fill="#1a1a1a" stroke="#1a1a1a" stroke-width="0.35">RPS6KB1</text><text transform="translate(456.8,412.2) scale(0.370)" font-size="10" fill="#1a1a1a" stroke="#1a1a1a" stroke-width="0.35">RPS6KA1</text><text transform="translate(489.4,415.5) scale(0.370)" font-size="10" fill="#1a1a1a" stroke="#1a1a1a" stroke-width="0.35">YBX1</text><text transform="translate(333.0,423.8) scale(0.370)" font-size="10" fill="#1a1a1a" stroke="#1a1a1a" stroke-width="0.35">CHEK1</text><text transform="translate(402.0,425.4) scale(0.370)" font-size="10" fill="#1a1a1a" stroke="#1a1a1a" stroke-width="0.35">AKT1</text><text transform="translate(409.3,440.2) scale(0.370)" font-size="10" fill="#1a1a1a" stroke="#1a1a1a" stroke-width="0.35">MAPK14</text><text transform="translate(470.8,440.6) scale(0.370)" font-size="10" fill="#1a1a1a" stroke="#1a1a1a" stroke-width="0.35">EIF4E</text><text transform="translate(369.6,451.2) scale(0.370)" font-size="10" fill="#1a1a1a" stroke="#1a1a1a" stroke-width="0.35">MDM2</text><text transform="translate(431.4,457.0) scale(0.370)" font-size="10" fill="#1a1a1a" stroke="#1a1a1a" stroke-width="0.35">EIF4EBP1</text><text transform="translate(456.8,463.3) scale(0.370)" font-size="10" fill="#1a1a1a" stroke="#1a1a1a" stroke-width="0.35">RPS6</text><text transform="translate(499.1,468.7) scale(0.370)" font-size="10" fill="#1a1a1a" stroke="#1a1a1a" stroke-width="0.35">EIF2S1</text><text transform="translate(329.4,468.8) scale(0.370)" font-size="10" fill="#1a1a1a" stroke="#1a1a1a" stroke-width="0.35">RPA2</text><text transform="translate(352.2,468.5) scale(0.370)" font-size="10" fill="#1a1a1a" stroke="#1a1a1a" stroke-width="0.35">HSF1</text><text transform="translate(380.8,484.2) scale(0.370)" font-size="10" fill="#1a1a1a" stroke="#1a1a1a" stroke-width="0.35">GSK3A</text><text transform="translate(429.1,518.3) scale(0.370)" font-size="10" fill="#1a1a1a" stroke="#1a1a1a" stroke-width="0.35">NDRG1</text>
<rect x="0" y="0" width="520" height="1.2" fill="#000"/><rect x="0" y="0" width="1.15" height="575" fill="#000"/><rect x="518.5" y="0" width="1.5" height="575" fill="#000"/><rect x="0" y="573.2" width="520" height="1.8" fill="#000"/>
</svg>
</body></html>
